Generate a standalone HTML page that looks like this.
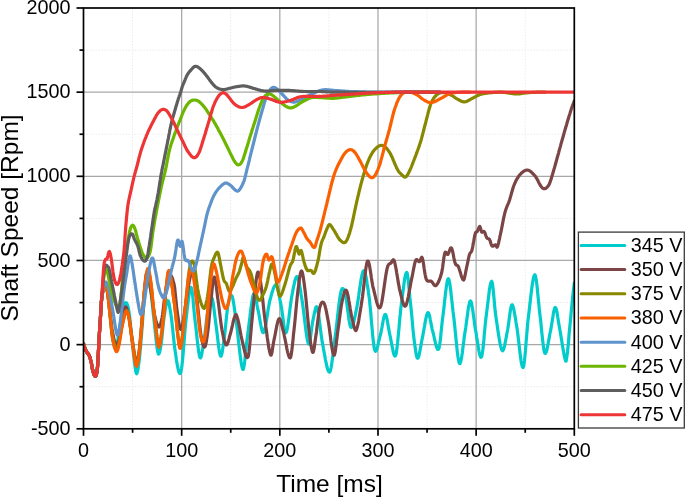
<!DOCTYPE html>
<html><head><meta charset="utf-8"><style>
html,body{margin:0;padding:0;background:#fff;width:685px;height:498px;overflow:hidden}
svg{display:block;font-family:"Liberation Sans",sans-serif;will-change:transform}
.mg{stroke:#ebebeb;stroke-width:1;stroke-dasharray:1.5 1.5}
.Mg{stroke:#a8a8a8;stroke-width:1.25}
#cv path{fill:none;stroke-width:3.2;stroke-linejoin:round;stroke-linecap:round}
#ax line,#ax rect{stroke:#000;stroke-width:1.7}
#lb text{font-size:19.8px;fill:#000}
#lg line{stroke-width:3;stroke-linecap:round}
#lg text{font-size:19.8px;fill:#000}
</style></head><body>
<svg width="685" height="498" viewBox="0 0 685 498">
<defs><clipPath id="c"><rect x="83.5" y="8.0" width="490.79999999999995" height="420.8"/></clipPath></defs>
<g id="gr"><line x1="132.58" y1="8.0" x2="132.58" y2="428.8" class="mg"/>
<line x1="230.74" y1="8.0" x2="230.74" y2="428.8" class="mg"/>
<line x1="328.90" y1="8.0" x2="328.90" y2="428.8" class="mg"/>
<line x1="427.06" y1="8.0" x2="427.06" y2="428.8" class="mg"/>
<line x1="525.22" y1="8.0" x2="525.22" y2="428.8" class="mg"/>
<line x1="83.5" y1="386.72" x2="574.3" y2="386.72" class="mg"/>
<line x1="83.5" y1="302.56" x2="574.3" y2="302.56" class="mg"/>
<line x1="83.5" y1="218.40" x2="574.3" y2="218.40" class="mg"/>
<line x1="83.5" y1="134.24" x2="574.3" y2="134.24" class="mg"/>
<line x1="83.5" y1="50.08" x2="574.3" y2="50.08" class="mg"/>
<line x1="181.66" y1="8.0" x2="181.66" y2="428.8" class="Mg"/>
<line x1="279.82" y1="8.0" x2="279.82" y2="428.8" class="Mg"/>
<line x1="377.98" y1="8.0" x2="377.98" y2="428.8" class="Mg"/>
<line x1="476.14" y1="8.0" x2="476.14" y2="428.8" class="Mg"/>
<line x1="83.5" y1="344.64" x2="574.3" y2="344.64" class="Mg"/>
<line x1="83.5" y1="260.48" x2="574.3" y2="260.48" class="Mg"/>
<line x1="83.5" y1="176.32" x2="574.3" y2="176.32" class="Mg"/>
<line x1="83.5" y1="92.16" x2="574.3" y2="92.16" class="Mg"/></g>
<g id="cv" clip-path="url(#c)"><path d="M83.5,343.8 L83.9,345.1 L84.3,346.4 L84.8,347.7 L85.2,348.8 L85.7,349.9 L86.2,350.9 L86.7,351.8 L87.2,352.7 L87.7,353.4 L88.2,353.9 L88.7,354.6 L89.2,355.5 L89.7,356.7 L90.2,358.2 L90.6,359.9 L91.1,361.8 L91.6,364.3 L92.0,367.1 L92.5,369.5 L93.0,371.4 L93.5,373.1 L94.0,374.5 L94.5,375.5 L95.0,376.0 L95.4,376.3 L95.8,376.0 L96.3,375.0 L96.7,373.1 L97.2,370.1 L97.6,366.0 L98.0,359.8 L98.4,352.0 L98.8,344.8 L99.1,338.0 L99.5,331.8 L99.9,326.0 L100.3,320.0 L100.8,311.0 L101.3,303.0 L101.7,298.7 L102.1,295.4 L102.5,293.0 L103.0,291.2 L103.4,290.0 L103.8,289.2 L104.3,288.5 L104.8,287.8 L105.2,287.4 L105.7,287.5 L106.2,287.9 L106.6,288.6 L107.0,289.8 L107.5,292.0 L108.0,295.7 L108.5,300.2 L109.0,305.1 L109.5,310.2 L110.0,315.0 L110.5,319.8 L111.0,324.8 L111.5,329.7 L112.0,334.2 L112.5,338.0 L113.0,341.0 L113.5,343.5 L114.0,345.5 L114.5,347.0 L115.0,348.0 L115.5,348.4 L116.0,348.0 L116.5,346.9 L117.0,345.0 L117.5,342.3 L118.0,339.1 L118.5,335.6 L119.0,331.9 L119.5,328.3 L120.0,325.0 L120.5,321.8 L121.0,318.7 L121.5,315.5 L122.0,312.6 L122.5,310.1 L123.0,308.0 L123.5,306.5 L123.9,305.1 L124.4,304.1 L124.8,303.3 L125.3,302.8 L125.7,302.6 L126.2,302.7 L126.7,303.2 L127.1,304.1 L127.6,305.3 L128.1,307.1 L128.5,309.3 L129.0,312.0 L129.5,315.7 L130.0,320.2 L130.5,325.2 L131.0,330.4 L131.5,335.4 L132.0,340.0 L132.5,344.1 L132.9,348.4 L133.4,352.8 L133.9,357.2 L134.3,361.3 L134.8,365.1 L135.3,368.4 L135.7,371.1 L136.2,373.0 L136.7,373.7 L137.1,372.9 L137.6,371.1 L138.1,368.5 L138.5,365.3 L139.0,362.0 L139.5,357.8 L140.0,352.7 L140.5,347.0 L141.0,341.0 L141.5,335.0 L142.0,328.7 L142.5,321.9 L143.0,315.0 L143.5,308.6 L144.0,303.0 L144.5,298.0 L145.0,293.3 L145.5,288.9 L146.0,285.1 L146.5,282.1 L147.0,280.0 L147.5,278.9 L148.0,278.7 L148.5,279.2 L149.0,280.5 L149.5,282.4 L150.0,285.0 L150.5,288.2 L151.0,292.1 L151.5,296.4 L152.0,301.1 L152.5,306.0 L153.0,310.8 L153.5,315.6 L154.0,320.0 L154.5,324.5 L155.0,329.3 L155.5,334.2 L156.0,339.0 L156.5,343.5 L157.0,347.4 L157.5,350.7 L158.0,353.0 L158.5,354.1 L159.0,353.8 L159.5,352.5 L160.0,350.5 L160.5,347.9 L161.0,345.0 L161.5,341.4 L162.0,336.9 L162.5,331.8 L163.0,326.7 L163.5,321.9 L164.0,318.0 L164.4,314.9 L164.9,311.9 L165.3,309.0 L165.8,306.4 L166.2,304.1 L166.7,302.3 L167.2,301.1 L167.6,300.5 L168.1,300.8 L168.6,301.8 L169.1,303.6 L169.5,306.0 L170.0,308.7 L170.5,311.8 L171.0,315.0 L171.5,318.7 L172.0,322.9 L172.5,327.5 L173.0,332.4 L173.5,337.2 L174.0,341.9 L174.5,346.2 L175.0,350.0 L175.5,353.3 L176.0,356.6 L176.4,359.7 L176.9,362.7 L177.4,365.4 L177.9,367.9 L178.3,370.0 L178.8,371.7 L179.3,373.0 L179.8,373.6 L180.2,373.4 L180.7,372.4 L181.1,370.7 L181.6,368.2 L182.0,365.0 L182.5,360.5 L183.0,355.1 L183.5,349.1 L184.0,342.8 L184.5,336.4 L185.0,330.3 L185.5,324.8 L186.0,320.0 L186.5,316.0 L186.9,311.9 L187.4,307.8 L187.9,303.8 L188.3,300.1 L188.8,296.6 L189.2,293.6 L189.7,291.1 L190.2,289.2 L190.6,287.9 L191.1,287.5 L191.6,288.5 L192.1,291.1 L192.6,295.1 L193.1,299.9 L193.5,305.2 L194.0,310.6 L194.5,315.7 L195.0,320.0 L195.5,324.1 L196.0,328.6 L196.5,333.2 L197.0,337.8 L197.5,342.3 L198.0,346.5 L198.5,350.2 L199.0,353.4 L199.5,355.9 L200.0,357.5 L200.5,357.9 L201.0,357.1 L201.5,355.4 L202.0,352.8 L202.5,349.8 L203.0,346.5 L203.5,343.1 L204.0,340.0 L204.5,336.7 L205.0,333.0 L205.5,328.9 L206.0,324.7 L206.5,320.5 L207.0,316.5 L207.5,313.0 L208.0,310.0 L208.5,307.4 L209.0,304.8 L209.5,302.5 L210.0,300.4 L210.5,298.9 L211.0,297.8 L211.5,297.5 L212.0,298.0 L212.5,299.5 L213.0,302.0 L213.5,305.2 L214.0,309.0 L214.5,313.1 L215.0,317.3 L215.5,321.3 L216.0,325.0 L216.5,328.7 L217.0,332.7 L217.5,337.0 L218.0,341.2 L218.5,345.3 L219.0,349.0 L219.5,352.1 L220.0,354.5 L220.5,356.0 L221.0,356.2 L221.5,355.2 L222.0,353.1 L222.5,350.3 L223.0,347.0 L223.5,343.5 L224.0,340.0 L224.5,336.2 L225.0,331.7 L225.5,326.9 L226.0,321.9 L226.5,316.9 L227.0,312.3 L227.5,308.2 L228.0,305.0 L228.5,302.4 L229.0,300.1 L229.5,298.3 L230.0,296.8 L230.5,295.8 L231.0,295.3 L231.5,295.4 L232.0,296.0 L232.5,297.4 L233.0,299.5 L233.5,302.3 L234.0,305.5 L234.5,309.1 L235.0,312.8 L235.5,316.5 L236.0,320.0 L236.5,323.5 L237.0,327.4 L237.5,331.5 L237.9,335.8 L238.4,340.2 L238.9,344.6 L239.4,348.9 L239.9,353.1 L240.4,357.0 L240.9,360.5 L241.3,363.6 L241.8,366.2 L242.3,368.1 L242.8,369.4 L243.3,369.4 L243.7,367.8 L244.2,365.1 L244.7,361.4 L245.1,357.1 L245.6,352.5 L246.1,347.9 L246.5,343.7 L247.0,340.0 L247.5,336.5 L248.0,332.8 L248.4,329.0 L248.9,325.0 L249.4,321.0 L249.9,317.0 L250.3,313.1 L250.8,309.4 L251.3,305.9 L251.8,302.6 L252.3,299.6 L252.7,297.1 L253.2,295.0 L253.7,293.4 L254.2,292.8 L254.7,293.3 L255.1,294.7 L255.6,296.8 L256.1,299.4 L256.6,302.3 L257.0,305.1 L257.5,307.8 L258.0,310.0 L258.5,312.2 L259.0,314.8 L259.5,317.6 L260.0,320.5 L260.5,323.3 L261.0,326.0 L261.5,328.4 L262.0,330.4 L262.5,331.9 L263.0,332.7 L263.5,332.7 L264.0,331.9 L264.5,330.5 L265.0,328.5 L265.5,326.1 L266.0,323.3 L266.5,320.3 L267.0,317.1 L267.5,313.9 L268.0,310.6 L268.5,307.5 L269.0,304.7 L269.5,302.1 L270.0,300.0 L270.5,298.2 L271.0,296.4 L271.4,294.7 L271.9,293.0 L272.4,291.4 L272.9,289.9 L273.3,288.6 L273.8,287.4 L274.3,286.4 L274.8,285.7 L275.2,285.2 L275.7,284.9 L276.2,285.0 L276.7,285.5 L277.2,286.6 L277.6,288.2 L278.1,290.1 L278.6,292.4 L279.1,294.8 L279.6,297.4 L280.0,300.0 L280.5,302.6 L281.0,305.0 L281.5,307.8 L282.0,311.1 L282.5,314.8 L283.0,318.7 L283.5,322.5 L284.0,325.9 L284.5,328.9 L285.0,331.2 L285.5,332.5 L286.0,332.7 L286.5,331.8 L287.0,330.0 L287.5,327.5 L288.0,324.3 L288.5,320.8 L289.0,316.9 L289.5,312.9 L290.0,308.8 L290.5,304.9 L291.0,301.2 L291.5,297.8 L292.0,295.0 L292.5,292.6 L292.9,290.1 L293.4,287.7 L293.9,285.4 L294.4,283.2 L294.8,281.2 L295.3,279.5 L295.8,278.1 L296.3,277.1 L296.7,276.5 L297.2,276.5 L297.7,277.1 L298.2,278.3 L298.6,280.1 L299.1,282.4 L299.6,285.0 L300.1,287.8 L300.6,290.9 L301.0,294.0 L301.5,297.0 L302.0,300.0 L302.5,303.2 L303.0,306.8 L303.5,310.8 L304.0,314.9 L304.5,319.1 L305.0,323.3 L305.5,327.4 L306.0,331.3 L306.5,334.9 L307.0,338.0 L307.5,340.7 L308.0,342.7 L308.5,344.0 L309.0,344.1 L309.5,342.8 L310.0,340.4 L310.5,337.2 L311.0,333.6 L311.5,329.7 L312.0,325.9 L312.5,322.6 L313.0,320.0 L313.5,317.7 L314.0,315.1 L314.5,312.6 L315.0,310.3 L315.5,308.4 L316.0,307.2 L316.5,306.7 L317.0,307.4 L317.5,308.9 L317.9,311.1 L318.4,313.8 L318.9,316.9 L319.3,320.3 L319.8,323.9 L320.3,327.6 L320.7,331.3 L321.2,334.9 L321.7,338.3 L322.1,341.4 L322.6,344.0 L323.1,346.5 L323.5,349.1 L324.0,351.7 L324.5,354.3 L325.0,357.0 L325.4,359.5 L325.9,361.9 L326.4,364.2 L326.9,366.3 L327.3,368.1 L327.8,369.7 L328.3,370.9 L328.8,371.7 L329.2,372.1 L329.7,372.0 L330.2,371.3 L330.6,369.8 L331.1,367.6 L331.6,364.9 L332.0,361.8 L332.5,358.3 L333.0,354.5 L333.4,350.6 L333.9,346.7 L334.4,342.7 L334.8,339.0 L335.3,335.5 L335.8,332.0 L336.2,328.2 L336.7,324.2 L337.2,320.1 L337.6,315.9 L338.1,311.8 L338.6,307.7 L339.0,303.9 L339.5,300.3 L340.0,297.1 L340.4,294.3 L340.9,292.0 L341.4,290.3 L341.8,289.2 L342.3,288.6 L342.8,288.5 L343.2,288.8 L343.7,289.5 L344.2,290.5 L344.6,291.8 L345.1,293.4 L345.6,295.4 L346.0,298.0 L346.5,301.1 L347.0,304.5 L347.4,308.0 L347.9,311.6 L348.4,315.2 L348.8,318.5 L349.3,321.5 L349.8,324.0 L350.2,325.9 L350.7,327.0 L351.2,327.4 L351.6,327.3 L352.1,326.7 L352.6,325.7 L353.0,324.4 L353.5,322.7 L354.0,320.9 L354.4,318.8 L354.9,316.7 L355.4,314.5 L355.8,312.3 L356.3,310.2 L356.8,307.9 L357.2,305.3 L357.7,302.3 L358.2,299.2 L358.7,295.9 L359.1,292.6 L359.6,289.3 L360.1,286.0 L360.6,282.8 L361.0,279.9 L361.5,277.3 L362.0,275.0 L362.5,273.1 L362.9,271.7 L363.4,270.9 L363.9,270.7 L364.3,271.1 L364.8,272.1 L365.3,273.6 L365.7,275.6 L366.2,277.9 L366.7,280.5 L367.1,283.4 L367.6,286.4 L368.1,289.6 L368.5,292.9 L369.0,296.2 L369.5,299.9 L369.9,304.3 L370.4,309.2 L370.9,314.4 L371.3,319.9 L371.8,325.4 L372.3,330.7 L372.7,335.8 L373.2,340.3 L373.7,344.3 L374.1,347.4 L374.6,349.6 L375.1,350.8 L375.5,351.3 L376.0,351.0 L376.5,350.2 L376.9,348.9 L377.4,347.3 L377.9,345.4 L378.3,343.3 L378.8,341.2 L379.3,339.1 L379.7,337.2 L380.2,335.5 L380.7,333.7 L381.1,331.6 L381.6,329.2 L382.1,326.7 L382.5,324.1 L383.0,321.6 L383.4,319.3 L383.9,317.3 L384.4,315.8 L384.8,314.8 L385.3,314.4 L385.8,314.8 L386.2,316.0 L386.7,317.8 L387.2,320.1 L387.6,322.6 L388.1,325.4 L388.6,328.2 L389.1,330.9 L389.5,333.4 L390.0,335.5 L390.5,337.6 L390.9,339.9 L391.4,342.5 L391.9,345.1 L392.4,347.7 L392.9,350.1 L393.3,352.3 L393.8,354.1 L394.3,355.4 L394.8,356.1 L395.2,356.0 L395.7,355.2 L396.2,353.4 L396.6,350.7 L397.1,347.1 L397.6,342.9 L398.0,338.3 L398.5,333.2 L399.0,328.1 L399.4,322.8 L399.9,317.7 L400.4,312.9 L400.8,308.4 L401.3,304.6 L401.8,300.8 L402.3,296.9 L402.8,293.0 L403.3,289.1 L403.8,285.4 L404.2,282.0 L404.7,278.9 L405.2,276.4 L405.7,274.4 L406.2,273.0 L406.7,272.5 L407.2,273.2 L407.6,275.4 L408.1,278.8 L408.5,283.0 L409.0,287.8 L409.5,292.8 L409.9,297.7 L410.4,302.2 L410.9,306.8 L411.4,311.9 L411.9,317.1 L412.4,322.4 L412.8,327.6 L413.3,332.6 L413.8,337.2 L414.3,341.3 L414.8,345.0 L415.3,348.5 L415.8,351.8 L416.2,354.5 L416.7,356.6 L417.2,357.9 L417.7,358.3 L418.2,357.7 L418.7,356.4 L419.2,354.5 L419.7,352.1 L420.2,349.5 L420.7,346.7 L421.2,343.8 L421.7,341.1 L422.2,338.7 L422.7,336.4 L423.1,333.9 L423.6,331.2 L424.1,328.5 L424.6,325.7 L425.0,323.0 L425.5,320.4 L426.0,318.1 L426.5,316.1 L426.9,314.4 L427.4,313.3 L427.9,312.6 L428.4,312.7 L428.8,313.5 L429.3,315.0 L429.8,317.0 L430.2,319.3 L430.7,321.8 L431.2,324.4 L431.7,326.8 L432.1,329.1 L432.6,330.9 L433.1,332.7 L433.6,334.8 L434.1,337.0 L434.6,339.3 L435.1,341.6 L435.6,343.7 L436.1,345.6 L436.6,347.2 L437.1,348.5 L437.6,349.3 L438.1,349.5 L438.6,349.1 L439.1,347.7 L439.6,345.2 L440.1,341.7 L440.6,337.6 L441.0,333.0 L441.5,328.2 L442.0,323.5 L442.5,319.1 L443.0,315.2 L443.5,311.5 L444.0,307.3 L444.4,303.0 L444.9,298.6 L445.4,294.2 L445.9,290.1 L446.4,286.4 L446.9,283.3 L447.3,280.8 L447.8,279.3 L448.3,278.7 L448.8,279.3 L449.2,280.8 L449.7,283.2 L450.2,286.4 L450.7,290.0 L451.1,294.1 L451.6,298.4 L452.1,302.9 L452.6,307.2 L453.0,311.4 L453.5,315.2 L454.0,319.3 L454.5,323.8 L455.0,328.8 L455.5,333.9 L456.0,339.0 L456.5,344.0 L457.0,348.8 L457.5,353.2 L458.0,357.0 L458.5,360.0 L459.0,362.3 L459.5,363.5 L460.0,363.6 L460.4,362.7 L460.9,361.0 L461.4,358.6 L461.9,355.6 L462.4,352.2 L462.8,348.6 L463.3,344.8 L463.8,341.0 L464.2,337.3 L464.7,333.9 L465.2,330.9 L465.7,328.0 L466.1,324.7 L466.6,321.1 L467.1,317.5 L467.6,313.9 L468.0,310.5 L468.5,307.4 L469.0,304.8 L469.5,302.7 L469.9,301.4 L470.4,300.9 L470.9,301.4 L471.4,302.8 L471.8,304.9 L472.3,307.6 L472.8,310.8 L473.3,314.3 L473.8,317.9 L474.3,321.5 L474.7,325.0 L475.2,328.2 L475.7,330.9 L476.2,333.5 L476.6,336.4 L477.1,339.5 L477.6,342.6 L478.1,345.7 L478.5,348.6 L479.0,351.3 L479.5,353.6 L480.0,355.5 L480.4,356.7 L480.9,357.3 L481.4,357.0 L481.9,355.6 L482.4,352.9 L482.9,349.2 L483.4,344.7 L483.9,339.7 L484.3,334.4 L484.8,329.1 L485.3,323.9 L485.8,319.2 L486.3,315.2 L486.8,311.4 L487.3,307.4 L487.8,303.3 L488.3,299.2 L488.8,295.2 L489.2,291.5 L489.7,288.1 L490.2,285.3 L490.7,283.2 L491.2,281.8 L491.7,281.3 L492.2,282.4 L492.7,285.4 L493.2,289.7 L493.7,295.0 L494.2,300.7 L494.7,306.3 L495.2,311.3 L495.7,315.3 L496.2,318.7 L496.7,322.1 L497.2,325.6 L497.7,329.0 L498.2,332.4 L498.7,335.6 L499.2,338.7 L499.7,341.5 L500.2,344.1 L500.7,346.3 L501.2,348.2 L501.7,349.6 L502.2,350.5 L502.7,350.8 L503.1,350.3 L503.6,349.3 L504.1,347.7 L504.6,345.8 L505.0,343.5 L505.5,341.1 L506.0,338.5 L506.5,335.9 L506.9,333.3 L507.4,331.0 L507.9,328.3 L508.4,324.9 L508.9,321.3 L509.4,317.5 L509.9,313.8 L510.4,310.4 L510.9,307.6 L511.4,305.7 L511.9,304.8 L512.4,304.9 L512.8,305.8 L513.3,307.3 L513.8,309.2 L514.2,311.6 L514.7,314.3 L515.2,317.1 L515.7,320.1 L516.1,323.0 L516.6,325.7 L517.1,328.8 L517.6,332.5 L518.1,336.5 L518.6,340.8 L519.1,345.2 L519.6,349.6 L520.1,353.8 L520.6,357.6 L521.1,361.1 L521.6,363.9 L522.1,366.0 L522.6,367.3 L523.1,367.5 L523.6,366.4 L524.0,363.9 L524.5,360.2 L525.0,355.6 L525.5,350.2 L525.9,344.5 L526.4,338.6 L526.9,332.7 L527.4,327.1 L527.8,322.1 L528.3,317.9 L528.8,313.8 L529.3,309.5 L529.8,305.1 L530.3,300.7 L530.8,296.3 L531.3,292.1 L531.8,288.2 L532.3,284.5 L532.8,281.4 L533.3,278.7 L533.8,276.7 L534.3,275.3 L534.8,274.8 L535.3,275.4 L535.7,277.1 L536.2,279.8 L536.7,283.4 L537.2,287.6 L537.6,292.2 L538.1,297.0 L538.6,302.0 L539.1,306.8 L539.5,311.3 L540.0,315.3 L540.5,319.3 L541.0,323.8 L541.4,328.5 L541.9,333.3 L542.4,338.0 L542.9,342.4 L543.4,346.2 L543.8,349.5 L544.3,351.8 L544.8,353.1 L545.3,353.4 L545.8,353.0 L546.2,352.0 L546.7,350.5 L547.2,348.5 L547.6,346.2 L548.1,343.7 L548.6,341.1 L549.1,338.4 L549.5,335.7 L550.0,333.2 L550.5,331.0 L551.0,328.7 L551.4,325.9 L551.9,323.0 L552.4,319.9 L552.9,316.8 L553.3,313.9 L553.8,311.4 L554.3,309.4 L554.7,308.0 L555.2,307.4 L555.7,307.8 L556.2,309.0 L556.7,310.9 L557.2,313.4 L557.6,316.3 L558.1,319.4 L558.6,322.6 L559.1,325.6 L559.6,328.3 L560.1,331.0 L560.6,333.9 L561.1,336.9 L561.6,340.0 L562.1,343.2 L562.6,346.3 L563.1,349.3 L563.6,352.1 L564.1,354.8 L564.6,357.2 L565.1,359.3 L565.6,361.0 L566.1,361.1 L566.5,359.1 L567.0,355.8 L567.5,352.0 L567.9,348.0 L568.4,343.1 L568.8,337.9 L569.2,333.0 L569.6,328.6 L570.1,324.3 L570.5,320.0 L570.9,316.0 L571.2,312.0 L571.6,308.0 L572.1,303.2 L572.5,298.5 L573.0,294.0 L573.4,290.2 L573.9,286.6 L574.3,283.0" stroke="#00CCCC"/>
<path d="M83.5,343.8 L83.9,345.1 L84.3,346.4 L84.8,347.7 L85.2,348.8 L85.7,349.9 L86.2,350.9 L86.7,351.8 L87.2,352.7 L87.7,353.4 L88.2,353.9 L88.7,354.6 L89.2,355.5 L89.7,356.7 L90.2,358.2 L90.6,359.9 L91.1,361.8 L91.6,364.3 L92.0,367.1 L92.5,369.5 L93.0,371.4 L93.5,373.1 L94.0,374.5 L94.5,375.5 L95.0,376.0 L95.4,376.3 L95.8,376.0 L96.3,375.0 L96.7,373.1 L97.2,370.1 L97.6,366.0 L98.0,359.8 L98.4,352.0 L98.8,344.8 L99.1,338.0 L99.5,331.8 L99.9,326.0 L100.3,320.0 L100.8,311.0 L101.3,303.0 L101.7,298.7 L102.1,295.4 L102.5,293.0 L103.0,291.2 L103.4,290.0 L103.8,289.2 L104.3,288.5 L104.8,287.8 L105.2,287.4 L105.7,287.5 L106.2,288.0 L106.6,288.7 L107.0,289.9 L107.5,292.0 L108.0,295.3 L108.5,299.2 L109.0,303.4 L109.5,307.8 L110.0,312.0 L110.5,316.2 L111.0,320.7 L111.5,325.0 L112.0,328.9 L112.5,332.0 L113.0,334.4 L113.5,336.6 L113.9,338.6 L114.4,340.4 L114.9,342.0 L115.3,343.2 L115.8,344.3 L116.3,345.0 L116.8,345.3 L117.2,345.0 L117.7,344.3 L118.1,343.2 L118.5,341.7 L119.0,340.0 L119.5,337.6 L120.0,334.7 L120.5,331.5 L121.0,328.1 L121.5,324.9 L122.0,322.0 L122.5,319.4 L122.9,316.7 L123.4,314.1 L123.9,311.6 L124.4,309.5 L124.8,307.9 L125.3,307.0 L125.8,306.8 L126.2,307.2 L126.7,308.1 L127.1,309.4 L127.6,311.1 L128.0,312.9 L128.5,315.0 L129.0,317.6 L129.5,320.7 L130.0,324.1 L130.5,327.7 L131.0,331.3 L131.5,334.8 L132.0,338.0 L132.5,341.0 L132.9,344.2 L133.4,347.4 L133.9,350.6 L134.3,353.7 L134.8,356.4 L135.3,358.8 L135.7,360.7 L136.2,362.0 L136.7,362.3 L137.1,361.6 L137.6,360.1 L138.1,357.8 L138.5,355.1 L139.0,352.0 L139.5,348.0 L140.0,343.1 L140.5,337.6 L141.0,331.8 L141.5,326.0 L142.0,319.9 L142.5,313.4 L143.0,306.8 L143.5,300.6 L144.0,295.0 L144.4,290.2 L144.9,285.4 L145.3,280.8 L145.8,277.0 L146.2,274.2 L146.7,273.0 L147.2,273.2 L147.7,274.2 L148.2,276.1 L148.7,278.5 L149.2,281.2 L149.7,284.2 L150.2,287.2 L150.7,290.0 L151.2,292.8 L151.7,296.0 L152.2,299.4 L152.6,302.9 L153.1,306.3 L153.6,309.6 L154.1,312.5 L154.6,315.0 L155.1,317.1 L155.5,319.0 L156.0,320.8 L156.5,322.4 L156.9,323.9 L157.4,325.1 L157.9,326.0 L158.3,326.6 L158.8,327.0 L159.3,326.9 L159.7,326.4 L160.2,325.4 L160.6,324.0 L161.1,322.3 L161.5,320.3 L162.0,318.0 L162.5,314.9 L163.0,311.1 L163.5,306.9 L164.0,302.6 L164.5,298.5 L165.0,295.0 L165.5,291.9 L166.0,288.7 L166.5,285.5 L166.9,282.5 L167.4,279.8 L167.9,277.6 L168.4,275.9 L168.9,275.0 L169.4,274.6 L169.9,274.6 L170.3,274.8 L170.8,275.2 L171.3,276.0 L171.8,276.9 L172.3,278.1 L172.8,279.6 L173.2,281.2 L173.7,283.0 L174.2,285.0 L174.7,287.8 L175.1,291.8 L175.6,296.5 L176.1,301.5 L176.5,306.1 L177.0,310.0 L177.5,313.5 L178.0,316.9 L178.5,320.1 L178.9,323.1 L179.4,325.6 L179.9,327.7 L180.4,329.0 L180.8,329.4 L181.3,328.9 L181.7,327.7 L182.1,326.1 L182.6,324.1 L183.0,322.0 L183.5,319.3 L184.0,316.1 L184.5,312.5 L185.0,308.9 L185.5,305.3 L186.0,302.0 L186.5,298.8 L187.0,295.5 L187.5,292.2 L188.0,289.0 L188.5,285.9 L189.0,283.0 L189.5,280.3 L190.0,278.0 L190.5,275.8 L191.0,273.8 L191.5,272.2 L192.0,271.2 L192.5,271.1 L193.0,272.0 L193.5,274.0 L194.0,276.7 L194.5,279.9 L195.0,283.6 L195.5,287.6 L196.0,291.8 L196.5,296.0 L197.0,300.0 L197.5,304.2 L198.0,308.8 L198.5,313.6 L199.0,318.4 L199.5,323.2 L200.0,327.6 L200.5,331.6 L201.0,335.0 L201.5,337.7 L201.9,340.2 L202.4,342.4 L202.9,344.2 L203.4,345.6 L203.9,346.6 L204.3,347.1 L204.8,347.0 L205.3,346.2 L205.7,344.7 L206.2,342.5 L206.6,339.8 L207.1,336.8 L207.5,333.4 L208.0,330.0 L208.5,325.7 L209.0,320.7 L209.5,315.3 L210.0,309.8 L210.5,304.6 L211.0,300.0 L211.5,295.8 L211.9,291.4 L212.4,287.1 L212.9,283.1 L213.4,279.9 L213.8,277.8 L214.3,277.0 L214.8,277.6 L215.2,279.4 L215.7,282.0 L216.2,285.3 L216.6,289.0 L217.1,292.8 L217.5,296.6 L218.0,300.0 L218.5,303.6 L219.0,307.5 L219.5,311.6 L220.0,315.7 L220.5,319.8 L221.0,323.6 L221.5,327.0 L222.0,330.0 L222.5,332.5 L223.0,334.9 L223.4,337.1 L223.9,339.2 L224.4,340.9 L224.9,342.4 L225.3,343.6 L225.8,344.5 L226.3,345.0 L226.8,345.0 L227.2,344.3 L227.7,343.2 L228.2,341.8 L228.6,340.2 L229.1,338.4 L229.5,336.6 L230.0,335.0 L230.5,333.3 L231.0,331.4 L231.5,329.3 L232.0,327.2 L232.5,325.1 L232.9,323.0 L233.4,321.0 L233.9,319.1 L234.4,317.5 L234.9,316.1 L235.4,315.0 L235.8,314.6 L236.3,314.8 L236.7,315.7 L237.1,316.9 L237.6,318.4 L238.0,320.0 L238.5,322.1 L239.0,324.6 L239.5,327.2 L240.0,330.0 L240.5,332.8 L241.0,335.5 L241.5,337.9 L242.0,340.0 L242.5,342.0 L243.0,344.1 L243.5,346.3 L244.0,348.6 L244.5,350.8 L245.0,352.8 L245.5,354.6 L246.0,356.0 L246.5,357.1 L247.0,357.6 L247.5,357.6 L248.0,357.0 L248.5,355.2 L249.0,351.9 L249.5,347.5 L250.0,342.3 L250.5,336.6 L251.0,330.8 L251.5,325.1 L252.0,320.0 L252.5,315.0 L253.0,309.8 L253.5,304.5 L254.0,299.3 L254.5,294.4 L255.0,290.0 L255.5,286.0 L256.0,282.0 L256.4,278.4 L256.9,275.3 L257.4,273.1 L257.9,272.0 L258.3,272.1 L258.8,273.0 L259.2,274.6 L259.7,276.7 L260.1,279.2 L260.6,282.0 L261.0,285.0 L261.5,288.7 L262.0,292.9 L262.5,297.5 L263.0,302.2 L263.5,307.0 L264.0,311.7 L264.5,316.1 L265.0,320.0 L265.5,323.5 L265.9,327.0 L266.4,330.6 L266.9,334.2 L267.3,337.7 L267.8,341.0 L268.3,344.2 L268.7,347.1 L269.2,349.7 L269.7,351.9 L270.1,353.7 L270.6,355.0 L271.1,355.2 L271.6,354.0 L272.1,351.7 L272.5,348.8 L273.0,345.6 L273.5,342.5 L274.0,340.0 L274.5,337.7 L275.0,335.2 L275.5,332.6 L276.0,329.9 L276.5,327.3 L277.0,324.9 L277.5,322.8 L278.0,320.9 L278.5,319.6 L279.0,318.7 L279.5,318.6 L280.0,319.2 L280.5,320.4 L281.0,322.0 L281.5,324.0 L282.0,326.1 L282.5,328.1 L283.0,330.0 L283.5,331.8 L284.0,333.9 L284.4,336.1 L284.9,338.5 L285.4,341.0 L285.9,343.5 L286.4,346.0 L286.8,348.3 L287.3,350.6 L287.8,352.6 L288.3,354.4 L288.8,355.9 L289.2,357.0 L289.7,357.7 L290.2,358.0 L290.7,357.2 L291.1,355.2 L291.6,352.1 L292.1,348.1 L292.6,343.7 L293.1,339.0 L293.5,334.4 L294.0,330.0 L294.5,325.4 L295.0,320.3 L295.5,315.0 L296.0,309.6 L296.5,304.2 L297.0,299.0 L297.5,294.3 L298.0,290.0 L298.5,286.1 L299.0,282.2 L299.5,278.7 L300.0,275.6 L300.5,273.2 L301.0,271.6 L301.5,271.0 L302.0,271.6 L302.5,273.2 L303.0,275.6 L303.5,278.7 L304.0,282.2 L304.5,286.1 L305.0,290.0 L305.5,294.3 L306.0,299.2 L306.5,304.5 L307.0,309.9 L307.5,315.4 L308.0,320.7 L308.5,325.6 L309.0,330.0 L309.5,333.8 L309.9,337.6 L310.4,341.3 L310.9,344.7 L311.4,347.6 L311.9,349.9 L312.3,351.6 L312.8,352.4 L313.3,352.0 L313.7,350.5 L314.2,348.0 L314.6,345.0 L315.1,341.6 L315.5,338.2 L316.0,335.0 L316.5,331.7 L316.9,328.0 L317.4,324.0 L317.9,320.0 L318.4,316.2 L318.9,312.7 L319.3,309.7 L319.8,307.4 L320.3,305.7 L320.7,304.4 L321.2,303.4 L321.7,302.7 L322.1,302.2 L322.6,302.1 L323.1,302.2 L323.5,302.6 L324.0,303.2 L324.5,304.2 L325.0,305.7 L325.5,307.6 L326.0,309.7 L326.5,312.1 L327.0,314.7 L327.5,317.4 L328.0,320.0 L328.5,322.8 L329.0,326.1 L329.5,329.6 L330.0,333.3 L330.5,337.0 L330.9,340.7 L331.4,344.3 L331.9,347.5 L332.4,350.3 L332.9,352.6 L333.4,354.3 L333.9,355.2 L334.4,355.0 L334.8,353.6 L335.3,351.3 L335.7,348.2 L336.2,344.7 L336.6,340.8 L337.1,337.0 L337.5,333.3 L338.0,330.0 L338.5,326.5 L339.0,322.8 L339.5,318.9 L340.0,315.0 L340.5,311.3 L341.0,307.8 L341.5,304.6 L342.0,302.0 L342.5,299.7 L343.0,297.5 L343.5,295.4 L344.0,293.6 L344.5,292.0 L345.0,290.9 L345.5,290.2 L346.0,290.1 L346.5,290.6 L347.0,291.7 L347.4,293.2 L347.9,295.2 L348.4,297.6 L348.8,300.2 L349.3,303.0 L349.8,305.9 L350.2,308.8 L350.7,311.6 L351.2,314.2 L351.6,316.6 L352.1,318.7 L352.6,320.7 L353.0,322.7 L353.5,324.7 L354.0,326.6 L354.4,328.2 L354.9,329.5 L355.4,330.3 L355.8,330.5 L356.3,330.0 L356.8,328.9 L357.2,327.3 L357.7,325.4 L358.2,323.2 L358.7,320.7 L359.1,318.0 L359.6,315.1 L360.1,312.1 L360.6,309.1 L361.1,306.0 L361.5,303.0 L362.0,300.0 L362.5,296.9 L362.9,293.3 L363.4,289.4 L363.9,285.3 L364.3,281.1 L364.8,277.0 L365.3,273.1 L365.7,269.5 L366.2,266.3 L366.7,263.8 L367.1,262.0 L367.6,261.0 L368.1,261.0 L368.5,261.8 L369.0,263.4 L369.5,265.5 L369.9,268.1 L370.4,271.1 L370.9,274.2 L371.3,277.3 L371.8,280.4 L372.3,283.3 L372.7,285.8 L373.2,287.8 L373.7,289.7 L374.2,291.8 L374.7,293.9 L375.2,296.0 L375.7,298.1 L376.2,300.2 L376.7,302.1 L377.2,303.8 L377.7,305.3 L378.2,306.5 L378.7,307.3 L379.2,307.8 L379.7,307.8 L380.2,307.4 L380.7,306.4 L381.2,304.7 L381.7,302.5 L382.2,299.9 L382.7,296.8 L383.2,293.6 L383.7,290.1 L384.2,286.6 L384.7,283.0 L385.2,279.5 L385.7,276.2 L386.2,273.1 L386.7,270.4 L387.2,268.1 L387.7,266.4 L388.1,265.3 L388.6,264.5 L389.1,264.1 L389.6,263.8 L390.1,263.6 L390.5,263.4 L391.0,263.0 L391.5,262.4 L391.9,261.5 L392.4,260.7 L392.9,260.0 L393.4,259.7 L393.8,260.0 L394.3,261.0 L394.8,262.7 L395.2,264.7 L395.7,267.0 L396.2,269.6 L396.6,272.3 L397.1,275.2 L397.6,278.0 L398.0,280.9 L398.5,283.6 L399.0,286.2 L399.4,288.6 L399.9,290.6 L400.4,292.5 L400.8,294.5 L401.3,296.4 L401.8,298.3 L402.2,300.2 L402.7,301.8 L403.2,303.3 L403.6,304.5 L404.1,305.4 L404.6,306.0 L405.0,306.2 L405.5,306.0 L406.0,305.3 L406.5,304.1 L406.9,302.6 L407.4,300.7 L407.9,298.6 L408.4,296.3 L408.8,293.8 L409.3,291.2 L409.8,288.5 L410.3,285.9 L410.7,283.4 L411.2,280.9 L411.7,278.7 L412.2,276.3 L412.7,273.7 L413.2,271.0 L413.7,268.4 L414.2,265.9 L414.7,263.6 L415.2,261.8 L415.7,260.4 L416.2,259.7 L416.7,259.5 L417.2,259.7 L417.6,260.2 L418.1,260.8 L418.6,261.3 L419.1,261.7 L419.6,261.7 L420.0,261.1 L420.5,260.0 L420.9,258.8 L421.3,257.7 L421.8,257.3 L422.2,257.8 L422.7,259.5 L423.2,262.0 L423.7,265.0 L424.1,268.3 L424.6,271.5 L425.1,274.5 L425.6,277.0 L426.1,278.7 L426.6,279.7 L427.0,280.5 L427.5,280.9 L428.0,281.2 L428.5,281.2 L428.9,281.2 L429.4,281.1 L429.9,281.0 L430.4,281.0 L430.8,281.1 L431.3,281.3 L431.8,281.7 L432.2,282.3 L432.7,282.9 L433.2,283.6 L433.6,284.3 L434.1,284.9 L434.6,285.4 L435.1,285.7 L435.5,285.7 L436.0,285.5 L436.5,285.0 L436.9,284.5 L437.4,283.8 L437.9,283.0 L438.4,282.1 L438.9,281.0 L439.3,279.9 L439.8,278.6 L440.3,277.3 L440.8,275.8 L441.2,274.2 L441.7,272.5 L442.1,270.4 L442.6,267.5 L443.0,264.2 L443.5,260.8 L443.9,257.5 L444.4,254.8 L444.8,253.0 L445.3,252.1 L445.8,252.2 L446.3,252.9 L446.8,253.8 L447.3,254.4 L447.8,254.5 L448.2,253.9 L448.7,252.9 L449.1,251.7 L449.6,250.4 L450.1,249.2 L450.5,248.3 L450.9,247.8 L451.4,248.0 L451.9,249.0 L452.4,250.6 L452.9,252.7 L453.4,255.0 L453.8,257.5 L454.3,259.8 L454.8,261.9 L455.3,263.5 L455.8,264.5 L456.3,265.0 L456.8,265.3 L457.3,265.4 L457.8,265.8 L458.3,266.5 L458.8,267.6 L459.2,268.9 L459.7,270.4 L460.2,272.0 L460.7,273.6 L461.1,275.2 L461.6,276.7 L462.1,278.0 L462.6,279.0 L463.0,279.7 L463.5,280.0 L464.0,279.5 L464.5,277.9 L465.0,275.7 L465.5,273.0 L466.0,270.4 L466.5,268.0 L467.0,265.7 L467.5,263.3 L468.0,260.9 L468.5,258.5 L469.0,256.3 L469.5,254.5 L470.0,253.3 L470.5,252.7 L470.9,252.2 L471.4,251.6 L471.9,250.5 L472.3,248.7 L472.8,246.3 L473.2,243.7 L473.7,241.3 L474.1,239.0 L474.5,236.7 L475.0,234.6 L475.4,233.0 L475.8,232.2 L476.3,232.0 L476.8,231.9 L477.2,231.5 L477.6,230.7 L478.1,229.6 L478.5,228.5 L478.9,227.5 L479.4,226.7 L479.8,226.5 L480.2,227.3 L480.7,229.0 L481.2,230.9 L481.6,232.0 L482.0,232.3 L482.5,232.1 L482.9,231.8 L483.3,231.5 L483.8,231.4 L484.2,231.6 L484.6,232.3 L485.1,233.3 L485.5,234.6 L485.9,235.8 L486.4,237.0 L486.8,237.8 L487.2,238.3 L487.7,238.5 L488.1,238.6 L488.6,238.7 L489.1,239.0 L489.5,239.5 L489.9,240.4 L490.4,241.6 L490.8,243.0 L491.2,244.3 L491.7,245.4 L492.1,246.0 L492.6,246.2 L493.1,246.2 L493.6,245.9 L494.1,245.5 L494.6,245.1 L495.1,244.8 L495.6,244.8 L496.0,245.4 L496.5,246.4 L496.9,247.2 L497.3,247.0 L497.8,245.8 L498.2,244.2 L498.7,242.4 L499.1,240.4 L499.6,238.3 L500.0,236.1 L500.5,234.0 L501.0,231.7 L501.5,229.2 L502.0,226.6 L502.5,224.0 L503.0,221.4 L503.5,218.9 L504.0,216.5 L504.5,214.3 L505.0,212.3 L505.5,210.6 L506.0,209.0 L506.5,207.7 L507.0,206.4 L507.5,205.2 L508.0,204.1 L508.5,202.9 L509.0,201.6 L509.5,200.2 L510.0,198.6 L510.5,196.9 L511.0,195.1 L511.5,193.3 L512.0,191.5 L512.5,189.7 L513.0,188.0 L513.5,186.5 L514.0,185.2 L514.5,184.0 L515.0,182.9 L515.5,181.8 L516.0,180.8 L516.5,179.8 L517.0,178.9 L517.5,178.1 L518.0,177.3 L518.5,176.5 L519.0,175.8 L519.5,175.2 L520.0,174.6 L520.5,174.1 L521.0,173.6 L521.4,173.1 L521.9,172.7 L522.4,172.3 L522.9,171.9 L523.3,171.5 L523.8,171.2 L524.3,170.9 L524.8,170.7 L525.2,170.5 L525.7,170.3 L526.2,170.2 L526.6,170.1 L527.1,170.1 L527.6,170.1 L528.1,170.2 L528.6,170.3 L529.1,170.5 L529.6,170.8 L530.1,171.1 L530.6,171.5 L531.1,171.9 L531.6,172.3 L532.1,172.8 L532.6,173.3 L533.1,173.8 L533.6,174.3 L534.1,174.9 L534.6,175.5 L535.1,176.1 L535.6,176.7 L536.1,177.4 L536.5,178.2 L537.0,179.0 L537.5,179.9 L538.0,180.8 L538.4,181.7 L538.9,182.7 L539.4,183.6 L539.9,184.4 L540.3,185.3 L540.8,186.0 L541.3,186.7 L541.8,187.3 L542.2,187.8 L542.7,188.2 L543.2,188.5 L543.7,188.7 L544.2,188.7 L544.7,188.7 L545.2,188.6 L545.7,188.4 L546.2,188.0 L546.7,187.6 L547.2,187.2 L547.7,186.6 L548.2,185.9 L548.7,185.2 L549.2,184.3 L549.7,183.2 L550.2,181.8 L550.7,180.3 L551.2,178.7 L551.7,177.1 L552.2,175.4 L552.7,173.7 L553.2,172.0 L553.7,170.3 L554.2,168.6 L554.7,166.9 L555.2,165.1 L555.7,163.3 L556.2,161.5 L556.7,159.6 L557.2,157.8 L557.7,156.0 L558.2,154.3 L558.7,152.6 L559.1,150.8 L559.6,149.1 L560.1,147.4 L560.6,145.6 L561.0,143.9 L561.5,142.2 L562.0,140.5 L562.5,138.7 L563.0,137.0 L563.5,135.2 L564.0,133.4 L564.5,131.7 L565.0,129.9 L565.5,128.2 L566.0,126.5 L566.5,124.9 L566.9,123.3 L567.4,121.7 L567.9,120.1 L568.4,118.6 L568.8,117.0 L569.3,115.5 L569.8,114.0 L570.2,112.6 L570.6,111.1 L571.1,109.7 L571.5,108.3 L572.0,107.0 L572.5,105.7 L572.9,104.5 L573.4,103.3 L573.8,102.2 L574.3,101.0" stroke="#7B4545"/>
<path d="M83.5,343.8 L83.9,345.1 L84.3,346.4 L84.8,347.7 L85.2,348.8 L85.7,349.9 L86.2,350.9 L86.7,351.8 L87.2,352.7 L87.7,353.4 L88.2,353.9 L88.7,354.6 L89.2,355.5 L89.7,356.7 L90.2,358.2 L90.6,359.9 L91.1,361.8 L91.6,364.3 L92.0,367.1 L92.5,369.5 L93.0,371.4 L93.5,373.1 L94.0,374.5 L94.5,375.5 L95.0,376.0 L95.4,376.3 L95.8,376.0 L96.3,375.0 L96.7,373.1 L97.2,370.1 L97.6,366.0 L98.0,359.8 L98.4,352.0 L98.8,344.8 L99.1,338.0 L99.5,331.8 L99.9,326.0 L100.3,320.0 L100.8,311.0 L101.3,303.0 L101.7,298.7 L102.1,295.4 L102.5,293.0 L103.0,291.2 L103.4,290.0 L103.8,289.2 L104.3,288.5 L104.8,287.8 L105.2,287.4 L105.7,287.5 L106.2,288.0 L106.6,288.6 L107.0,289.8 L107.5,292.0 L108.0,295.6 L108.5,299.9 L109.0,304.6 L109.5,309.4 L110.0,314.0 L110.5,318.7 L111.0,323.6 L111.5,328.4 L112.0,332.6 L112.5,336.0 L113.0,338.5 L113.5,340.8 L113.9,342.8 L114.4,344.6 L114.9,346.1 L115.3,347.4 L115.8,348.3 L116.3,349.0 L116.8,349.1 L117.2,348.7 L117.7,347.7 L118.1,346.4 L118.5,344.8 L119.0,343.0 L119.5,340.6 L120.0,337.8 L120.5,334.7 L121.0,331.5 L121.5,328.5 L122.0,326.0 L122.5,323.9 L122.9,321.8 L123.4,319.7 L123.9,317.7 L124.3,315.9 L124.8,314.2 L125.3,312.8 L125.7,311.7 L126.2,311.0 L126.7,310.8 L127.1,311.3 L127.6,312.4 L128.1,313.9 L128.5,315.8 L129.0,318.0 L129.5,320.8 L130.0,324.2 L130.5,327.9 L131.0,331.8 L131.5,335.6 L132.0,339.0 L132.5,342.1 L132.9,345.4 L133.4,348.8 L133.9,352.1 L134.3,355.3 L134.8,358.2 L135.3,360.7 L135.7,362.6 L136.2,364.0 L136.7,364.4 L137.1,363.7 L137.6,362.1 L138.1,359.9 L138.5,357.1 L139.0,354.0 L139.5,350.1 L140.0,345.2 L140.5,339.7 L141.0,333.9 L141.5,328.0 L142.0,321.8 L142.5,315.2 L143.0,308.4 L143.5,301.9 L144.0,296.0 L144.4,291.4 L144.9,287.2 L145.3,283.5 L145.8,280.0 L146.2,277.0 L146.6,274.2 L147.1,271.8 L147.6,270.3 L148.0,270.0 L148.4,270.8 L148.9,272.1 L149.3,274.0 L149.8,276.3 L150.2,279.0 L150.7,282.0 L151.2,285.7 L151.7,289.9 L152.2,294.4 L152.6,299.1 L153.1,303.8 L153.6,308.5 L154.1,312.9 L154.6,317.0 L155.1,321.0 L155.6,325.0 L156.1,329.0 L156.6,332.9 L157.0,336.4 L157.5,339.5 L158.0,342.1 L158.5,344.0 L159.0,344.7 L159.5,344.0 L160.0,342.2 L160.5,339.8 L161.0,337.0 L161.4,334.2 L161.9,330.9 L162.3,327.3 L162.8,323.3 L163.2,319.2 L163.7,315.0 L164.2,310.2 L164.6,304.9 L165.1,299.5 L165.5,294.4 L166.0,290.0 L166.5,285.7 L167.0,281.3 L167.4,277.2 L167.9,273.9 L168.4,271.8 L168.9,271.5 L169.4,272.5 L169.9,274.1 L170.3,276.2 L170.8,278.7 L171.3,281.5 L171.8,284.7 L172.3,288.0 L172.8,291.5 L173.2,295.0 L173.7,298.6 L174.2,302.0 L174.7,305.6 L175.1,309.5 L175.6,313.8 L176.1,318.2 L176.6,322.7 L177.0,327.2 L177.5,331.5 L178.0,335.6 L178.5,339.2 L178.9,342.4 L179.4,345.0 L179.8,346.4 L180.3,346.5 L180.7,345.7 L181.1,344.0 L181.6,341.7 L182.0,339.0 L182.5,335.5 L183.0,331.4 L183.5,326.9 L183.9,322.1 L184.4,317.1 L184.9,312.0 L185.4,306.9 L185.9,302.0 L186.3,297.7 L186.7,293.1 L187.2,288.4 L187.6,284.0 L188.0,280.0 L188.5,275.8 L189.0,272.0 L189.5,268.7 L190.0,266.0 L190.5,263.9 L191.0,262.3 L191.5,261.3 L192.0,261.0 L192.5,261.1 L193.0,261.6 L193.5,262.5 L194.0,263.9 L194.5,266.0 L195.0,268.6 L195.4,271.8 L195.9,275.3 L196.3,279.0 L196.8,282.7 L197.2,286.1 L197.7,289.0 L198.2,291.5 L198.6,293.8 L199.1,295.8 L199.5,297.7 L200.0,299.5 L200.4,301.1 L200.9,302.5 L201.4,303.8 L201.8,305.1 L202.3,306.2 L202.7,307.1 L203.2,307.8 L203.6,308.3 L204.1,308.4 L204.6,308.0 L205.1,307.1 L205.5,305.7 L206.0,303.9 L206.5,302.0 L207.0,299.6 L207.5,296.8 L208.0,293.5 L208.5,290.0 L209.0,286.3 L209.4,282.2 L209.9,278.0 L210.4,273.9 L210.8,270.1 L211.3,267.0 L211.8,264.7 L212.2,262.8 L212.7,261.3 L213.1,260.1 L213.6,259.0 L214.0,258.0 L214.5,256.9 L214.9,255.8 L215.4,254.7 L215.9,253.7 L216.4,252.9 L216.9,252.4 L217.3,252.2 L217.8,252.5 L218.3,253.5 L218.7,255.2 L219.2,257.5 L219.7,260.1 L220.1,262.7 L220.6,265.0 L221.1,267.2 L221.5,269.5 L222.0,271.9 L222.4,274.2 L222.9,276.4 L223.3,278.3 L223.8,280.0 L224.3,281.2 L224.8,281.8 L225.2,282.2 L225.7,282.6 L226.2,283.3 L226.7,284.4 L227.1,285.7 L227.6,287.2 L228.0,288.6 L228.5,289.9 L228.9,290.8 L229.4,291.3 L229.9,291.3 L230.3,290.9 L230.8,290.3 L231.2,289.4 L231.7,288.5 L232.1,287.5 L232.6,286.5 L233.1,285.5 L233.5,284.4 L234.0,283.2 L234.5,282.0 L235.0,280.8 L235.4,279.6 L235.9,278.5 L236.4,277.5 L236.8,276.7 L237.3,275.9 L237.7,275.0 L238.2,274.2 L238.6,273.2 L239.1,272.1 L239.6,270.7 L240.1,269.1 L240.5,267.4 L241.0,265.7 L241.5,264.0 L242.0,261.9 L242.5,259.5 L243.0,257.7 L243.5,257.0 L244.0,257.7 L244.4,259.0 L244.9,260.9 L245.4,262.8 L245.8,264.6 L246.3,266.0 L246.8,267.0 L247.3,267.7 L247.8,268.4 L248.3,268.9 L248.8,269.5 L249.3,270.1 L249.8,271.0 L250.3,272.0 L250.8,273.2 L251.2,274.6 L251.7,276.2 L252.1,277.9 L252.6,279.6 L253.0,281.3 L253.5,283.0 L254.0,284.9 L254.5,286.8 L255.0,288.8 L255.5,290.8 L256.0,292.8 L256.5,294.6 L257.0,296.3 L257.5,297.8 L258.0,298.9 L258.5,299.7 L258.9,300.2 L259.4,300.3 L259.9,300.2 L260.4,299.8 L260.8,299.2 L261.3,298.4 L261.7,297.5 L262.2,296.5 L262.6,295.5 L263.1,294.5 L263.6,293.5 L264.0,292.6 L264.5,291.6 L264.9,290.5 L265.4,289.3 L265.8,288.0 L266.3,286.5 L266.8,284.7 L267.2,282.7 L267.7,280.6 L268.1,278.4 L268.6,276.1 L269.0,274.0 L269.5,272.1 L270.0,270.0 L270.5,267.7 L271.0,265.8 L271.5,264.4 L272.0,264.0 L272.5,264.6 L273.0,265.8 L273.5,267.5 L274.0,269.5 L274.5,271.8 L275.0,274.0 L275.5,276.5 L276.0,279.4 L276.5,282.5 L277.0,285.5 L277.5,288.0 L278.0,290.3 L278.5,292.6 L279.0,294.6 L279.5,296.0 L280.0,296.3 L280.5,295.9 L281.0,295.2 L281.5,294.3 L282.0,293.1 L282.5,291.8 L283.0,290.4 L283.5,288.9 L284.0,287.3 L284.5,285.7 L285.0,284.2 L285.5,282.6 L286.0,280.9 L286.5,279.0 L287.0,277.1 L287.5,275.2 L288.0,273.3 L288.5,271.3 L289.0,269.5 L289.5,267.8 L290.0,266.2 L290.5,264.9 L291.0,264.0 L291.5,263.3 L292.0,262.5 L292.5,261.6 L293.0,260.2 L293.4,258.4 L293.9,256.2 L294.3,253.7 L294.8,251.3 L295.2,249.1 L295.7,247.4 L296.1,246.5 L296.6,246.6 L297.1,247.8 L297.6,249.6 L298.1,251.5 L298.6,253.1 L299.1,254.0 L299.6,253.5 L300.1,252.0 L300.6,250.7 L301.1,250.5 L301.6,251.7 L302.1,253.5 L302.6,255.7 L303.1,258.1 L303.6,260.3 L304.1,262.2 L304.6,263.8 L305.1,265.4 L305.6,266.9 L306.1,268.2 L306.6,269.2 L307.1,270.0 L307.6,270.5 L308.1,270.7 L308.6,270.7 L309.1,270.6 L309.6,270.5 L310.1,270.4 L310.6,270.4 L311.1,270.5 L311.6,271.0 L312.1,271.7 L312.6,272.6 L313.1,273.3 L313.6,273.5 L314.1,273.2 L314.6,272.3 L315.1,271.1 L315.6,269.7 L316.1,268.0 L316.6,266.2 L317.1,264.3 L317.6,262.3 L318.1,260.2 L318.6,257.8 L319.1,255.1 L319.6,252.1 L320.1,249.1 L320.6,246.4 L321.1,244.1 L321.5,242.5 L322.0,241.2 L322.4,240.1 L322.9,239.1 L323.3,238.2 L323.8,237.2 L324.2,236.1 L324.7,234.7 L325.2,233.3 L325.7,231.9 L326.2,230.6 L326.7,229.3 L327.2,228.1 L327.7,227.1 L328.1,226.1 L328.6,225.2 L329.0,224.7 L329.5,224.5 L330.0,224.7 L330.4,225.1 L330.9,225.6 L331.4,226.2 L331.8,226.9 L332.3,227.7 L332.7,228.4 L333.2,229.1 L333.7,229.9 L334.2,230.7 L334.7,231.5 L335.2,232.4 L335.7,233.3 L336.2,234.1 L336.7,234.9 L337.1,235.7 L337.6,236.6 L338.1,237.4 L338.6,238.2 L339.1,238.9 L339.5,239.5 L340.0,240.0 L340.5,240.4 L341.0,240.9 L341.5,241.3 L342.0,241.7 L342.5,242.1 L343.0,242.4 L343.5,242.6 L344.0,242.7 L344.5,242.6 L345.0,242.4 L345.5,242.0 L346.0,241.5 L346.4,240.8 L346.9,240.0 L347.4,239.0 L347.8,238.0 L348.3,236.8 L348.7,235.5 L349.2,234.1 L349.7,232.7 L350.1,231.1 L350.6,229.5 L351.1,227.6 L351.6,225.6 L352.1,223.4 L352.6,221.2 L353.1,218.8 L353.6,216.4 L354.1,214.0 L354.6,211.6 L355.1,209.2 L355.6,206.8 L356.1,204.5 L356.6,202.3 L357.1,200.2 L357.6,198.0 L358.1,195.9 L358.6,193.8 L359.1,191.7 L359.6,189.7 L360.1,187.7 L360.6,185.7 L361.1,183.7 L361.6,181.8 L362.1,180.0 L362.6,178.2 L363.1,176.5 L363.6,174.7 L364.1,173.1 L364.6,171.4 L365.1,169.8 L365.6,168.3 L366.1,166.8 L366.6,165.3 L367.1,163.9 L367.6,162.6 L368.1,161.3 L368.6,160.1 L369.1,159.0 L369.5,158.0 L370.0,157.0 L370.5,156.0 L370.9,155.1 L371.4,154.3 L371.9,153.5 L372.4,152.7 L372.8,152.0 L373.3,151.3 L373.8,150.7 L374.2,150.1 L374.7,149.6 L375.2,149.1 L375.7,148.6 L376.2,148.1 L376.7,147.6 L377.2,147.2 L377.7,146.9 L378.2,146.5 L378.7,146.2 L379.2,146.0 L379.7,145.7 L380.2,145.6 L380.7,145.5 L381.2,145.4 L381.7,145.4 L382.2,145.5 L382.7,145.6 L383.2,145.8 L383.7,146.1 L384.2,146.3 L384.7,146.7 L385.2,147.1 L385.7,147.5 L386.2,148.0 L386.7,148.5 L387.2,149.1 L387.7,149.7 L388.2,150.4 L388.7,151.1 L389.2,151.8 L389.7,152.6 L390.2,153.4 L390.6,154.3 L391.1,155.2 L391.6,156.2 L392.1,157.2 L392.6,158.3 L393.0,159.5 L393.5,160.6 L394.0,161.7 L394.4,162.9 L394.9,164.0 L395.4,165.1 L395.9,166.2 L396.4,167.3 L396.8,168.3 L397.3,169.2 L397.8,170.0 L398.2,170.8 L398.7,171.4 L399.1,172.0 L399.6,172.6 L400.1,173.1 L400.5,173.6 L401.0,174.0 L401.5,174.4 L401.9,174.9 L402.4,175.4 L402.8,175.8 L403.3,176.2 L403.8,176.6 L404.2,176.9 L404.7,177.0 L405.1,177.1 L405.6,177.0 L406.1,176.7 L406.6,176.2 L407.1,175.6 L407.6,174.8 L408.0,173.9 L408.5,173.0 L409.0,172.0 L409.5,171.0 L410.0,170.0 L410.5,168.8 L411.0,167.7 L411.5,166.5 L412.0,165.2 L412.5,163.9 L413.0,162.6 L413.5,161.3 L414.0,160.0 L414.5,158.7 L415.0,157.4 L415.5,156.1 L416.0,154.8 L416.5,153.4 L417.0,152.1 L417.5,150.8 L418.0,149.4 L418.5,148.0 L419.0,146.6 L419.5,145.1 L420.0,143.6 L420.5,142.0 L421.0,140.4 L421.5,138.7 L421.9,137.0 L422.4,135.2 L422.9,133.3 L423.4,131.4 L423.9,129.5 L424.3,127.6 L424.8,125.8 L425.3,124.0 L425.8,122.2 L426.2,120.4 L426.7,118.5 L427.2,116.6 L427.7,114.7 L428.1,112.9 L428.6,111.1 L429.1,109.3 L429.6,107.7 L430.1,106.1 L430.5,104.7 L431.0,103.4 L431.5,102.2 L432.0,101.1 L432.5,100.1 L433.0,99.3 L433.5,98.5 L434.0,97.8 L434.5,97.1 L435.0,96.5 L435.5,96.0 L436.0,95.5 L436.5,95.0 L437.0,94.6 L437.5,94.2 L438.0,93.8 L438.5,93.5 L439.0,93.3 L439.5,93.1 L440.0,92.9 L440.5,92.8 L441.0,92.7 L441.5,92.6 L442.0,92.6 L442.5,92.6 L443.0,92.6 L443.5,92.6 L444.0,92.6 L444.5,92.7 L445.0,92.8 L445.5,92.9 L446.0,93.0 L446.5,93.2 L447.0,93.3 L447.5,93.5 L448.0,93.7 L448.5,93.9 L449.0,94.1 L449.5,94.4 L450.0,94.6 L450.5,94.8 L451.0,95.1 L451.5,95.3 L452.0,95.6 L452.5,95.8 L453.0,96.2 L453.5,96.5 L454.0,96.8 L454.5,97.2 L455.0,97.6 L455.5,97.9 L456.0,98.3 L456.5,98.6 L457.0,98.9 L457.5,99.2 L458.0,99.5 L458.5,99.7 L459.0,100.0 L459.4,100.2 L459.9,100.5 L460.4,100.7 L460.9,101.0 L461.4,101.2 L461.8,101.4 L462.3,101.5 L462.8,101.7 L463.3,101.8 L463.7,101.9 L464.2,101.9 L464.7,101.9 L465.2,101.8 L465.7,101.7 L466.2,101.6 L466.6,101.4 L467.1,101.2 L467.6,101.0 L468.1,100.7 L468.6,100.4 L469.1,100.1 L469.6,99.9 L470.1,99.6 L470.5,99.3 L471.0,99.0 L471.5,98.7 L472.0,98.5 L472.5,98.3 L473.0,98.0 L473.5,97.7 L474.0,97.5 L474.5,97.2 L475.0,96.9 L475.5,96.7 L476.0,96.4 L476.5,96.1 L477.0,95.9 L477.5,95.6 L478.0,95.4 L478.5,95.2 L479.0,95.0 L479.5,94.8 L480.0,94.6 L480.5,94.4 L481.0,94.3 L481.5,94.2 L482.0,94.0 L482.5,93.9 L483.0,93.8 L483.5,93.7 L484.0,93.6 L484.5,93.5 L485.0,93.4 L485.5,93.4 L486.0,93.3 L486.5,93.2 L487.0,93.1 L487.5,93.1 L488.0,93.0 L488.5,93.0 L489.0,92.9 L489.5,92.9 L490.0,92.8 L490.5,92.7 L491.0,92.7 L491.5,92.6 L492.0,92.6 L492.5,92.6 L493.0,92.5 L493.5,92.5 L494.0,92.4 L494.5,92.4 L495.0,92.4 L495.5,92.3 L496.0,92.3 L496.5,92.3 L497.0,92.3 L497.5,92.2 L498.0,92.2 L498.5,92.2 L499.0,92.2 L499.5,92.2 L500.0,92.2 L500.5,92.2 L501.0,92.2 L501.5,92.2 L502.0,92.2 L502.5,92.2 L503.0,92.3 L503.5,92.3 L504.0,92.4 L504.5,92.4 L505.0,92.5 L505.5,92.6 L506.0,92.7 L506.5,92.7 L507.0,92.8 L507.5,92.9 L508.0,93.0 L508.5,93.1 L509.0,93.2 L509.5,93.2 L510.0,93.3 L510.5,93.4 L510.9,93.4 L511.4,93.5 L511.9,93.5 L512.4,93.6 L512.9,93.7 L513.3,93.7 L513.8,93.8 L514.3,93.8 L514.8,93.9 L515.2,93.9 L515.7,94.0 L516.2,94.0 L516.6,94.0 L517.1,94.0 L517.6,94.0 L518.1,94.0 L518.6,93.9 L519.1,93.9 L519.6,93.8 L520.1,93.8 L520.6,93.7 L521.1,93.6 L521.5,93.5 L522.0,93.4 L522.5,93.4 L523.0,93.3 L523.5,93.2 L524.0,93.1 L524.5,93.1 L525.0,93.0 L525.5,93.0 L526.0,92.9 L526.5,92.9 L527.0,92.8 L527.5,92.8 L528.0,92.7 L528.5,92.7 L529.0,92.7 L529.5,92.6 L530.0,92.6 L530.5,92.5 L531.0,92.5 L531.5,92.5 L532.0,92.5 L532.5,92.4 L533.0,92.4 L533.5,92.4 L534.0,92.3 L534.5,92.3 L535.0,92.3 L535.5,92.3 L536.0,92.3 L536.5,92.2 L537.0,92.2 L537.5,92.2 L538.0,92.2 L538.5,92.2 L539.0,92.2 L539.5,92.2 L540.0,92.2 L540.5,92.2 L541.0,92.2 L541.5,92.2 L542.0,92.2 L542.5,92.2 L543.0,92.2 L543.5,92.2 L544.0,92.2 L544.5,92.2 L545.0,92.2" stroke="#888800"/>
<path d="M83.5,343.8 L83.9,345.1 L84.3,346.4 L84.8,347.7 L85.2,348.8 L85.7,349.9 L86.2,350.9 L86.7,351.8 L87.2,352.7 L87.7,353.4 L88.2,353.9 L88.7,354.6 L89.2,355.5 L89.7,356.7 L90.2,358.2 L90.6,359.9 L91.1,361.8 L91.6,364.3 L92.0,367.1 L92.5,369.5 L93.0,371.4 L93.5,373.1 L94.0,374.5 L94.5,375.5 L95.0,376.0 L95.4,376.3 L95.8,376.0 L96.3,375.0 L96.7,373.1 L97.2,370.1 L97.6,366.0 L98.0,359.8 L98.4,352.0 L98.8,344.8 L99.1,338.0 L99.5,331.8 L99.9,326.0 L100.3,320.0 L100.8,311.0 L101.3,303.0 L101.7,298.7 L102.1,295.4 L102.5,293.0 L103.0,291.2 L103.4,290.0 L103.8,289.2 L104.3,288.5 L104.8,287.8 L105.2,287.4 L105.7,287.5 L106.2,287.9 L106.6,288.6 L107.0,289.8 L107.5,292.0 L108.0,295.7 L108.5,300.2 L109.0,305.1 L109.5,310.2 L110.0,315.0 L110.5,319.9 L111.0,325.0 L111.5,330.0 L112.0,334.5 L112.5,338.0 L113.0,340.6 L113.5,343.0 L113.9,345.1 L114.4,347.0 L114.9,348.6 L115.3,349.8 L115.8,350.8 L116.3,351.5 L116.8,351.6 L117.2,351.1 L117.7,350.1 L118.1,348.6 L118.5,346.9 L119.0,345.0 L119.5,342.5 L120.0,339.5 L120.5,336.2 L121.0,332.8 L121.5,329.7 L122.0,327.0 L122.5,324.8 L122.9,322.5 L123.4,320.3 L123.9,318.2 L124.3,316.2 L124.8,314.5 L125.3,313.0 L125.7,311.8 L126.2,311.0 L126.7,310.8 L127.1,311.2 L127.6,312.3 L128.1,313.8 L128.5,315.8 L129.0,318.0 L129.5,320.9 L130.0,324.4 L130.5,328.4 L131.0,332.4 L131.5,336.4 L132.0,340.0 L132.5,343.3 L132.9,346.7 L133.4,350.2 L133.9,353.7 L134.3,357.0 L134.8,360.0 L135.3,362.6 L135.7,364.6 L136.2,366.0 L136.7,366.3 L137.1,365.5 L137.6,363.8 L138.1,361.3 L138.5,358.3 L139.0,355.0 L139.5,350.8 L140.0,345.7 L140.5,340.0 L141.0,334.0 L141.5,328.0 L142.0,321.8 L142.5,315.1 L143.0,308.4 L143.5,301.9 L144.0,296.0 L144.4,291.3 L144.9,286.9 L145.3,282.9 L145.8,279.2 L146.2,276.0 L146.6,273.0 L147.1,270.5 L147.6,268.8 L148.0,268.5 L148.4,269.3 L148.9,270.7 L149.3,272.6 L149.8,275.0 L150.2,277.8 L150.7,281.0 L151.2,284.9 L151.7,289.4 L152.2,294.1 L152.6,299.1 L153.1,304.1 L153.6,309.0 L154.1,313.7 L154.6,318.0 L155.1,322.2 L155.6,326.5 L156.1,330.8 L156.6,334.9 L157.0,338.6 L157.5,342.0 L158.0,344.7 L158.5,346.6 L159.0,347.2 L159.5,346.2 L160.0,344.0 L160.5,341.1 L161.0,338.0 L161.4,335.0 L161.9,331.5 L162.3,327.7 L162.8,323.6 L163.2,319.3 L163.7,315.0 L164.2,310.2 L164.6,304.9 L165.1,299.5 L165.5,294.4 L166.0,290.0 L166.5,285.6 L167.0,281.0 L167.4,276.6 L167.9,273.1 L168.4,270.9 L168.9,270.5 L169.4,271.5 L169.9,273.1 L170.3,275.3 L170.8,277.9 L171.3,280.8 L171.8,284.0 L172.3,287.5 L172.8,291.1 L173.2,294.8 L173.7,298.4 L174.2,302.0 L174.7,305.7 L175.1,309.8 L175.6,314.3 L176.1,319.0 L176.6,323.7 L177.0,328.4 L177.5,332.9 L178.0,337.2 L178.5,341.0 L178.9,344.3 L179.4,347.0 L179.8,348.4 L180.3,348.4 L180.7,347.3 L181.1,345.4 L181.6,342.9 L182.0,340.0 L182.5,336.3 L183.0,332.0 L183.5,327.3 L183.9,322.3 L184.4,317.2 L184.9,312.0 L185.4,306.9 L185.9,302.0 L186.3,297.8 L186.7,293.5 L187.2,289.3 L187.6,285.4 L188.0,282.0 L188.5,278.5 L189.0,275.2 L189.5,272.4 L190.0,270.3 L190.5,269.0 L191.0,268.6 L191.5,268.9 L192.0,269.9 L192.5,271.6 L193.0,274.0 L193.5,277.0 L194.0,280.4 L194.5,284.1 L195.0,288.1 L195.5,292.3 L196.0,296.5 L196.5,300.8 L197.0,305.0 L197.5,309.5 L198.0,314.4 L198.5,319.4 L199.0,324.2 L199.5,328.5 L200.0,332.0 L200.5,334.6 L200.9,336.9 L201.4,338.8 L201.9,340.3 L202.4,341.3 L202.8,341.9 L203.3,342.0 L203.8,341.5 L204.2,340.4 L204.7,338.7 L205.1,336.3 L205.6,333.4 L206.0,330.0 L206.5,325.2 L207.0,319.3 L207.5,312.8 L208.0,306.3 L208.5,300.2 L209.0,295.0 L209.5,290.8 L209.9,286.7 L210.4,282.7 L210.8,278.9 L211.3,275.4 L211.7,272.2 L212.2,269.3 L212.6,266.9 L213.1,265.0 L213.6,263.9 L214.1,264.0 L214.6,264.9 L215.0,266.4 L215.5,268.2 L216.0,270.0 L216.5,272.0 L217.0,274.3 L217.5,276.8 L218.0,279.5 L218.5,282.2 L219.0,284.9 L219.5,287.5 L220.0,290.0 L220.5,292.4 L221.0,294.8 L221.5,297.1 L222.0,299.3 L222.5,301.3 L223.0,303.0 L223.5,304.5 L224.0,305.9 L224.5,307.1 L225.0,308.0 L225.5,308.5 L226.0,308.5 L226.5,308.0 L227.0,307.1 L227.5,305.9 L228.0,304.2 L228.5,302.3 L229.0,300.0 L229.5,297.4 L230.0,294.4 L230.5,291.2 L231.0,287.8 L231.5,284.4 L232.0,281.1 L232.5,277.9 L233.0,275.0 L233.5,272.4 L234.0,269.8 L234.5,267.2 L234.9,264.8 L235.4,262.5 L235.9,260.5 L236.4,258.6 L236.9,257.0 L237.4,255.7 L237.8,254.6 L238.3,253.6 L238.7,252.7 L239.2,252.1 L239.6,251.6 L240.1,251.2 L240.5,251.0 L241.0,251.0 L241.5,251.3 L242.0,252.2 L242.5,253.4 L243.0,254.8 L243.5,256.4 L244.0,258.0 L244.5,259.7 L245.0,261.5 L245.5,263.4 L246.0,265.4 L246.5,267.4 L247.0,269.3 L247.5,271.2 L248.0,273.0 L248.5,274.7 L249.0,276.3 L249.5,277.9 L250.0,279.5 L250.5,281.0 L251.0,282.4 L251.5,283.8 L252.0,285.0 L252.5,286.2 L253.0,287.5 L253.5,288.8 L254.0,290.0 L254.5,291.1 L255.0,292.0 L255.5,292.6 L256.0,293.0 L256.5,293.0 L257.0,292.5 L257.5,291.6 L258.0,290.2 L258.5,288.5 L259.0,286.5 L259.5,284.3 L260.0,282.0 L260.5,279.2 L261.0,275.7 L261.5,271.9 L262.0,268.1 L262.5,264.7 L263.0,262.0 L263.5,260.0 L263.9,258.3 L264.4,256.9 L264.9,255.8 L265.4,254.9 L265.8,254.3 L266.3,254.0 L266.8,254.3 L267.2,255.3 L267.6,256.7 L268.1,258.2 L268.6,259.4 L269.0,260.0 L269.5,259.8 L270.0,259.1 L270.5,258.1 L271.0,257.2 L271.5,256.7 L272.0,257.0 L272.5,258.2 L273.0,260.1 L273.5,262.5 L274.0,265.0 L274.5,267.6 L275.0,270.0 L275.4,272.2 L275.9,274.8 L276.3,277.4 L276.7,279.7 L277.2,281.3 L277.6,282.0 L278.1,281.9 L278.5,281.6 L279.0,281.0 L279.5,280.2 L279.9,279.2 L280.4,278.0 L280.8,276.8 L281.3,275.5 L281.8,274.2 L282.2,272.9 L282.7,271.7 L283.2,270.4 L283.6,269.1 L284.1,267.6 L284.6,266.1 L285.0,264.6 L285.5,263.0 L286.0,261.5 L286.5,259.9 L286.9,258.4 L287.4,257.0 L287.9,255.5 L288.4,254.1 L288.9,252.7 L289.4,251.3 L289.8,249.9 L290.3,248.6 L290.8,247.2 L291.3,245.8 L291.8,244.5 L292.3,243.1 L292.8,241.6 L293.3,240.2 L293.8,238.7 L294.3,237.3 L294.8,235.9 L295.3,234.6 L295.8,233.5 L296.3,232.5 L296.8,231.6 L297.3,230.8 L297.8,230.1 L298.3,229.5 L298.8,229.0 L299.3,228.6 L299.8,228.3 L300.3,228.1 L300.8,228.0 L301.2,228.2 L301.7,228.7 L302.1,229.4 L302.6,230.3 L303.1,231.2 L303.5,232.0 L304.0,232.9 L304.5,233.8 L305.0,234.8 L305.4,235.8 L305.9,236.8 L306.4,237.7 L306.9,238.5 L307.3,239.1 L307.8,239.7 L308.2,240.2 L308.7,240.6 L309.1,241.0 L309.6,241.5 L310.0,242.0 L310.5,242.7 L311.0,243.5 L311.5,244.3 L312.0,245.2 L312.4,246.0 L312.9,246.7 L313.4,247.2 L313.9,247.5 L314.4,247.5 L314.8,247.0 L315.3,246.0 L315.7,244.6 L316.1,243.0 L316.6,241.4 L317.0,240.0 L317.5,238.6 L318.0,237.2 L318.5,235.8 L318.9,234.3 L319.4,232.8 L319.9,231.2 L320.4,229.5 L320.9,227.6 L321.4,225.7 L321.9,223.7 L322.4,221.7 L322.9,219.7 L323.4,217.6 L323.9,215.6 L324.4,213.5 L324.9,211.4 L325.4,209.4 L325.9,207.3 L326.4,205.3 L326.9,203.4 L327.3,201.4 L327.8,199.4 L328.3,197.4 L328.8,195.4 L329.2,193.4 L329.7,191.4 L330.2,189.4 L330.7,187.4 L331.1,185.5 L331.6,183.6 L332.1,181.8 L332.6,180.0 L333.1,178.3 L333.5,176.7 L334.0,175.2 L334.5,173.7 L335.0,172.3 L335.5,171.0 L336.0,169.7 L336.5,168.5 L337.0,167.4 L337.5,166.3 L338.0,165.3 L338.5,164.3 L339.0,163.3 L339.5,162.4 L340.0,161.4 L340.5,160.5 L341.0,159.6 L341.5,158.6 L342.0,157.7 L342.5,156.8 L343.0,155.9 L343.5,155.1 L344.0,154.4 L344.5,153.7 L345.0,153.1 L345.5,152.5 L346.0,152.0 L346.5,151.6 L346.9,151.2 L347.4,150.8 L347.8,150.5 L348.3,150.2 L348.8,150.0 L349.2,149.8 L349.7,149.7 L350.1,149.6 L350.6,149.6 L351.1,149.7 L351.6,149.8 L352.1,150.0 L352.6,150.3 L353.0,150.6 L353.5,151.0 L354.0,151.5 L354.5,152.0 L355.0,152.5 L355.5,153.1 L355.9,153.7 L356.4,154.4 L356.8,155.2 L357.3,156.0 L357.8,156.8 L358.2,157.6 L358.7,158.4 L359.1,159.3 L359.6,160.1 L360.1,161.0 L360.6,161.9 L361.1,162.9 L361.6,163.9 L362.1,164.9 L362.6,165.9 L363.1,166.9 L363.6,167.8 L364.1,168.8 L364.6,169.7 L365.1,170.6 L365.6,171.5 L366.1,172.3 L366.6,173.0 L367.1,173.7 L367.6,174.3 L368.0,174.9 L368.5,175.4 L369.0,175.9 L369.4,176.4 L369.9,176.8 L370.4,177.1 L370.9,177.4 L371.3,177.6 L371.8,177.6 L372.3,177.6 L372.7,177.5 L373.2,177.3 L373.7,176.9 L374.2,176.4 L374.7,175.8 L375.2,175.1 L375.7,174.3 L376.2,173.3 L376.7,172.3 L377.2,171.2 L377.7,170.1 L378.2,168.8 L378.7,167.5 L379.2,166.2 L379.7,164.8 L380.2,163.3 L380.6,161.6 L381.1,159.9 L381.6,158.1 L382.1,156.2 L382.6,154.3 L383.1,152.4 L383.6,150.5 L384.0,148.6 L384.5,146.8 L385.0,145.0 L385.5,143.2 L386.0,141.5 L386.5,139.8 L387.0,138.1 L387.5,136.4 L388.0,134.6 L388.5,132.8 L389.0,131.0 L389.5,129.2 L389.9,127.4 L390.4,125.5 L390.9,123.5 L391.3,121.6 L391.8,119.6 L392.3,117.7 L392.7,115.9 L393.2,114.0 L393.7,112.3 L394.1,110.7 L394.6,109.2 L395.1,107.7 L395.6,106.4 L396.1,105.0 L396.5,103.7 L397.0,102.5 L397.5,101.4 L398.0,100.3 L398.5,99.3 L398.9,98.4 L399.4,97.5 L399.9,96.7 L400.4,96.0 L400.9,95.4 L401.3,94.8 L401.8,94.3 L402.3,93.8 L402.8,93.4 L403.2,93.1 L403.7,92.8 L404.2,92.5 L404.6,92.3 L405.1,92.1 L405.6,91.9 L406.1,91.8 L406.5,91.8 L407.0,91.7 L407.5,91.7 L408.0,91.7 L408.5,91.7 L409.0,91.8 L409.5,91.8 L410.0,91.9 L410.5,92.1 L411.0,92.2 L411.5,92.4 L412.0,92.6 L412.5,92.8 L413.0,93.0 L413.5,93.2 L414.0,93.4 L414.5,93.6 L415.0,93.9 L415.5,94.1 L416.0,94.4 L416.5,94.6 L417.0,94.9 L417.5,95.2 L418.0,95.5 L418.5,95.9 L419.0,96.2 L419.5,96.6 L420.0,97.0 L420.5,97.4 L421.0,97.9 L421.5,98.3 L422.0,98.7 L422.5,99.0 L423.0,99.4 L423.5,99.7 L424.0,100.0 L424.5,100.3 L424.9,100.5 L425.4,100.8 L425.9,101.1 L426.4,101.3 L426.8,101.5 L427.3,101.8 L427.8,102.0 L428.3,102.2 L428.7,102.3 L429.2,102.5 L429.7,102.5 L430.2,102.6 L430.6,102.6 L431.1,102.6 L431.6,102.5 L432.1,102.4 L432.6,102.3 L433.0,102.2 L433.5,102.0 L434.0,101.9 L434.5,101.7 L435.0,101.5 L435.5,101.2 L436.0,101.0 L436.4,100.8 L436.9,100.5 L437.4,100.3 L437.9,100.0 L438.4,99.7 L438.9,99.5 L439.4,99.2 L439.8,98.9 L440.3,98.7 L440.8,98.4 L441.3,98.2 L441.8,98.0 L442.3,97.7 L442.8,97.4 L443.2,97.1 L443.7,96.9 L444.2,96.6 L444.7,96.3 L445.2,96.0 L445.6,95.7 L446.1,95.4 L446.6,95.1 L447.1,94.8 L447.6,94.6 L448.1,94.3 L448.6,94.1 L449.0,93.9 L449.5,93.7 L450.0,93.5 L450.5,93.4 L451.0,93.2 L451.5,93.1 L452.0,93.0 L452.5,92.9 L453.0,92.8 L453.5,92.7 L454.0,92.7 L454.5,92.6 L455.0,92.6 L455.5,92.6 L456.0,92.5 L456.5,92.5 L457.0,92.5 L457.5,92.4 L458.0,92.4 L458.5,92.4 L459.0,92.4 L459.5,92.3 L460.0,92.3 L460.5,92.3 L461.0,92.2 L461.5,92.2 L462.0,92.2 L462.5,92.2 L463.0,92.2 L463.5,92.2 L464.0,92.2 L464.5,92.2 L465.0,92.2 L465.5,92.2 L466.0,92.2 L466.5,92.2 L467.0,92.2 L467.5,92.2 L468.0,92.2 L468.5,92.2 L469.0,92.2 L469.5,92.2 L470.0,92.2" stroke="#FA6000"/>
<path d="M83.5,343.8 L83.9,345.1 L84.3,346.4 L84.8,347.7 L85.2,348.8 L85.7,349.9 L86.2,350.9 L86.7,351.8 L87.2,352.7 L87.7,353.4 L88.2,353.9 L88.7,354.6 L89.2,355.5 L89.7,356.7 L90.2,358.2 L90.6,359.9 L91.1,361.8 L91.6,364.3 L92.0,367.1 L92.5,369.5 L93.0,371.4 L93.5,373.1 L94.0,374.5 L94.5,375.5 L95.0,376.0 L95.4,376.3 L95.8,376.0 L96.3,375.0 L96.7,373.1 L97.2,370.1 L97.6,366.0 L98.0,359.8 L98.4,352.0 L98.8,344.8 L99.1,338.0 L99.5,331.8 L99.9,326.0 L100.3,320.0 L100.8,311.1 L101.3,303.0 L101.7,298.4 L102.1,294.8 L102.5,292.0 L103.0,289.5 L103.4,287.5 L103.8,285.9 L104.3,284.5 L104.8,283.2 L105.3,282.3 L105.8,282.0 L106.2,282.3 L106.6,283.0 L107.0,284.0 L107.4,285.0 L107.9,286.3 L108.4,287.8 L108.9,289.5 L109.4,291.4 L109.8,293.2 L110.2,295.4 L110.6,297.7 L111.0,300.0 L111.5,302.9 L112.0,305.9 L112.5,308.9 L113.0,311.9 L113.5,315.0 L114.0,318.3 L114.5,321.7 L115.0,325.0 L115.5,328.0 L115.9,330.3 L116.3,332.5 L116.8,334.1 L117.2,335.0 L117.7,335.0 L118.1,334.4 L118.5,333.1 L119.0,331.0 L119.5,328.0 L120.0,324.4 L120.5,320.4 L121.0,316.2 L121.5,312.0 L122.0,307.7 L122.5,303.1 L123.0,298.4 L123.5,294.0 L124.0,290.0 L124.5,286.5 L125.0,283.3 L125.5,280.3 L126.0,277.4 L126.5,274.5 L127.0,271.5 L127.5,268.2 L128.0,264.8 L128.5,261.7 L129.0,259.0 L129.5,257.0 L129.9,255.8 L130.4,256.0 L130.8,257.4 L131.3,259.4 L131.7,261.8 L132.2,264.4 L132.6,267.0 L133.0,269.5 L133.4,272.3 L133.8,275.2 L134.2,278.0 L134.7,281.1 L135.1,284.1 L135.6,287.1 L136.0,290.1 L136.5,293.0 L137.0,296.2 L137.5,299.3 L138.0,302.3 L138.5,305.0 L138.9,307.3 L139.4,309.7 L139.8,311.8 L140.3,313.5 L140.7,314.4 L141.2,314.6 L141.6,314.2 L142.1,313.3 L142.5,311.9 L143.0,310.0 L143.5,307.4 L144.0,304.2 L144.5,300.7 L145.0,297.1 L145.5,293.4 L146.0,290.0 L146.4,287.0 L146.9,283.9 L147.3,280.8 L147.8,277.8 L148.2,274.8 L148.7,271.9 L149.2,269.3 L149.6,267.0 L150.1,264.6 L150.6,262.4 L151.1,260.5 L151.6,259.0 L152.1,258.1 L152.6,258.0 L153.1,258.8 L153.5,260.4 L153.9,262.5 L154.4,265.1 L154.9,267.6 L155.3,270.0 L155.8,272.5 L156.3,275.1 L156.8,277.8 L157.2,280.5 L157.7,283.1 L158.2,285.4 L158.7,287.5 L159.2,289.2 L159.6,290.7 L160.1,292.0 L160.6,293.2 L161.1,294.2 L161.5,295.1 L162.0,296.0 L162.4,296.8 L162.9,297.4 L163.3,297.7 L163.8,297.8 L164.2,297.5 L164.7,296.8 L165.1,295.8 L165.6,294.7 L166.1,293.3 L166.5,291.7 L167.0,290.0 L167.5,288.0 L168.0,285.9 L168.5,283.7 L169.0,281.4 L169.4,279.1 L169.9,276.7 L170.4,274.4 L170.9,272.2 L171.4,270.0 L171.9,268.1 L172.3,266.4 L172.8,264.7 L173.2,263.1 L173.7,261.4 L174.1,259.5 L174.6,257.5 L175.1,255.1 L175.5,252.2 L176.0,249.2 L176.4,246.2 L176.9,243.5 L177.3,241.4 L177.8,240.0 L178.3,240.0 L178.8,241.5 L179.2,243.5 L179.7,245.4 L180.2,246.3 L180.7,245.4 L181.1,243.3 L181.6,241.5 L182.1,241.4 L182.6,243.4 L183.1,246.5 L183.6,250.1 L184.0,253.7 L184.5,256.9 L185.0,259.1 L185.5,260.2 L185.9,260.6 L186.4,260.6 L186.8,260.5 L187.3,260.3 L187.7,260.3 L188.2,260.7 L188.7,261.5 L189.2,262.6 L189.6,263.8 L190.1,265.1 L190.6,266.5 L191.1,267.7 L191.6,268.9 L192.0,269.9 L192.5,270.6 L193.0,271.0 L193.4,271.0 L193.9,270.5 L194.3,269.7 L194.8,268.6 L195.2,267.3 L195.7,265.8 L196.1,264.3 L196.6,262.4 L197.1,260.4 L197.6,258.2 L198.1,255.8 L198.6,253.4 L199.1,251.0 L199.6,248.6 L200.1,246.3 L200.6,244.0 L201.1,241.8 L201.6,239.5 L202.1,237.3 L202.6,235.0 L203.1,232.8 L203.6,230.5 L204.1,228.2 L204.6,225.8 L205.1,223.3 L205.6,220.8 L206.1,218.4 L206.6,216.1 L207.1,214.1 L207.6,212.3 L208.1,210.6 L208.6,209.1 L209.1,207.6 L209.6,206.2 L210.1,204.8 L210.6,203.5 L211.1,202.1 L211.6,200.8 L212.1,199.5 L212.6,198.3 L213.1,197.1 L213.6,196.1 L214.1,195.1 L214.6,194.3 L215.0,193.5 L215.5,192.8 L215.9,192.1 L216.4,191.4 L216.8,190.8 L217.3,190.2 L217.7,189.6 L218.2,189.0 L218.7,188.4 L219.2,187.8 L219.7,187.3 L220.2,186.8 L220.7,186.3 L221.2,185.8 L221.7,185.4 L222.2,185.0 L222.7,184.6 L223.2,184.2 L223.7,183.9 L224.2,183.6 L224.7,183.3 L225.2,183.1 L225.7,183.0 L226.2,183.0 L226.7,183.1 L227.2,183.3 L227.7,183.5 L228.2,183.8 L228.7,184.1 L229.2,184.4 L229.7,184.8 L230.2,185.2 L230.7,185.6 L231.2,186.0 L231.7,186.4 L232.2,186.9 L232.7,187.5 L233.2,188.0 L233.7,188.6 L234.2,189.1 L234.7,189.6 L235.2,190.0 L235.7,190.4 L236.2,190.7 L236.7,191.0 L237.2,191.1 L237.7,191.1 L238.2,191.0 L238.7,190.7 L239.2,190.1 L239.7,189.5 L240.2,188.7 L240.7,187.9 L241.2,187.0 L241.6,186.2 L242.1,185.3 L242.5,184.5 L243.0,183.5 L243.4,182.4 L243.9,181.3 L244.3,180.0 L244.7,178.6 L245.2,176.9 L245.6,175.2 L246.0,173.3 L246.5,171.5 L246.9,169.7 L247.4,167.7 L247.9,165.8 L248.4,163.8 L248.9,161.8 L249.4,159.8 L249.8,157.8 L250.3,155.9 L250.8,153.9 L251.3,151.9 L251.8,150.0 L252.3,148.0 L252.8,146.0 L253.3,144.0 L253.8,142.0 L254.3,140.0 L254.8,138.0 L255.3,136.0 L255.8,134.1 L256.3,132.1 L256.8,130.1 L257.3,128.2 L257.8,126.3 L258.3,124.4 L258.8,122.5 L259.3,120.7 L259.8,118.9 L260.3,117.1 L260.8,115.3 L261.3,113.5 L261.8,111.7 L262.3,110.0 L262.8,108.4 L263.2,106.8 L263.7,105.2 L264.1,103.6 L264.6,102.1 L265.1,100.6 L265.5,99.3 L266.0,98.0 L266.5,96.7 L267.0,95.6 L267.5,94.5 L268.0,93.4 L268.5,92.5 L269.0,91.6 L269.5,90.8 L270.0,90.0 L270.4,89.4 L270.9,88.8 L271.3,88.4 L271.8,88.0 L272.2,87.7 L272.7,87.5 L273.1,87.4 L273.6,87.4 L274.1,87.4 L274.6,87.6 L275.1,87.8 L275.5,88.0 L276.0,88.3 L276.5,88.6 L277.0,89.0 L277.5,89.4 L278.0,89.8 L278.5,90.3 L279.0,90.8 L279.5,91.3 L280.0,91.8 L280.5,92.4 L281.0,92.9 L281.5,93.4 L282.0,94.0 L282.5,94.5 L283.0,95.0 L283.5,95.5 L284.0,96.1 L284.5,96.6 L285.0,97.2 L285.5,97.7 L286.0,98.3 L286.5,98.8 L287.0,99.2 L287.5,99.6 L288.0,100.0 L288.5,100.3 L289.0,100.6 L289.5,100.9 L290.0,101.1 L290.5,101.3 L290.9,101.5 L291.4,101.7 L291.9,101.8 L292.4,102.0 L292.9,102.0 L293.4,102.1 L293.9,102.1 L294.4,102.1 L294.8,102.0 L295.3,101.9 L295.8,101.8 L296.2,101.7 L296.7,101.5 L297.2,101.3 L297.7,101.1 L298.1,100.9 L298.6,100.7 L299.1,100.4 L299.5,100.2 L300.0,100.0 L300.5,99.8 L301.0,99.5 L301.5,99.3 L302.0,99.1 L302.5,98.8 L303.0,98.6 L303.5,98.3 L304.0,98.0 L304.5,97.8 L305.0,97.5 L305.5,97.2 L306.0,97.0 L306.5,96.7 L307.0,96.5 L307.5,96.2 L308.0,96.0 L308.5,95.7 L309.0,95.5 L309.5,95.2 L310.0,95.0 L310.5,94.8 L311.0,94.5 L311.5,94.3 L312.0,94.1 L312.5,93.8 L313.0,93.6 L313.4,93.4 L313.9,93.1 L314.4,92.9 L314.9,92.7 L315.4,92.4 L315.9,92.2 L316.4,92.0 L316.9,91.8 L317.4,91.5 L317.9,91.3 L318.4,91.2 L318.9,91.0 L319.3,90.8 L319.8,90.6 L320.3,90.5 L320.8,90.3 L321.3,90.2 L321.8,90.1 L322.3,90.0 L322.8,89.9 L323.3,89.9 L323.8,89.8 L324.3,89.8 L324.7,89.7 L325.2,89.7 L325.7,89.7 L326.2,89.7 L326.7,89.7 L327.2,89.8 L327.7,89.8 L328.2,89.8 L328.6,89.9 L329.1,89.9 L329.6,90.0 L330.1,90.0 L330.6,90.1 L331.1,90.1 L331.6,90.2 L332.1,90.2 L332.6,90.3 L333.0,90.3 L333.5,90.4 L334.0,90.4 L334.5,90.5 L335.0,90.5 L335.5,90.5 L336.0,90.6 L336.5,90.6 L337.0,90.6 L337.5,90.7 L338.0,90.7 L338.5,90.7 L339.0,90.8 L339.5,90.8 L340.0,90.8 L340.5,90.9 L341.0,90.9 L341.5,91.0 L342.0,91.0 L342.5,91.0 L343.0,91.1 L343.5,91.1 L344.0,91.1 L344.5,91.2 L345.0,91.2 L345.5,91.3 L346.0,91.3 L346.5,91.3 L347.0,91.4 L347.5,91.4 L348.0,91.4 L348.5,91.4 L349.0,91.5 L349.5,91.5 L350.0,91.5 L350.5,91.5 L351.0,91.5 L351.5,91.6 L352.0,91.6 L352.5,91.6 L353.0,91.6 L353.5,91.6 L354.0,91.6 L354.5,91.7 L355.0,91.7 L355.5,91.7 L356.0,91.7 L356.5,91.7 L357.0,91.7 L357.5,91.7 L358.0,91.8 L358.5,91.8 L359.0,91.8 L359.5,91.8 L360.0,91.8 L360.5,91.8 L361.0,91.8 L361.5,91.9 L362.0,91.9 L362.5,91.9 L363.0,91.9 L363.5,91.9 L364.0,91.9 L364.5,91.9 L365.0,91.9 L365.5,92.0 L366.0,92.0 L366.5,92.0 L367.0,92.0 L367.5,92.0 L368.0,92.0 L368.5,92.0 L369.0,92.0 L369.5,92.0 L370.0,92.0 L370.5,92.0 L371.0,92.1 L371.5,92.1 L372.0,92.1 L372.5,92.1 L373.0,92.1 L373.5,92.1 L374.0,92.1 L374.5,92.1 L375.0,92.1 L375.5,92.1 L376.0,92.1 L376.5,92.1 L377.0,92.1 L377.5,92.1 L378.0,92.1 L378.5,92.1 L379.0,92.2 L379.5,92.2 L380.0,92.2 L380.5,92.2 L381.0,92.2 L381.5,92.2 L382.0,92.2 L382.5,92.2 L383.0,92.2 L383.5,92.2 L384.0,92.2 L384.5,92.2 L385.0,92.2 L385.5,92.2 L386.0,92.2 L386.5,92.2 L387.0,92.2 L387.5,92.2 L388.0,92.2 L388.5,92.2 L389.0,92.2 L389.5,92.2 L390.0,92.2 L390.5,92.2 L391.0,92.2 L391.5,92.2 L392.0,92.2 L392.5,92.2 L393.0,92.2 L393.5,92.2 L394.0,92.2 L394.5,92.2 L395.0,92.2 L395.5,92.2 L396.0,92.2 L396.5,92.2 L397.0,92.2 L397.5,92.2 L398.0,92.2 L398.5,92.2 L399.0,92.2 L399.5,92.2 L400.0,92.2 L400.5,92.2 L401.0,92.2 L401.5,92.2 L402.0,92.2 L402.5,92.2 L403.0,92.2 L403.5,92.2 L404.0,92.2 L404.5,92.2 L405.0,92.2 L405.5,92.2 L406.0,92.2 L406.5,92.2 L407.0,92.2 L407.5,92.2 L408.0,92.2 L408.5,92.2 L409.0,92.2 L409.5,92.2 L410.0,92.2 L410.5,92.2 L411.0,92.2 L411.5,92.2 L412.0,92.2 L412.5,92.2 L413.0,92.2 L413.5,92.2 L414.0,92.2 L414.5,92.2 L415.0,92.2 L415.5,92.2 L416.0,92.2 L416.5,92.2 L417.0,92.2 L417.5,92.2 L418.0,92.2 L418.5,92.2 L419.0,92.2 L419.5,92.2 L420.0,92.2 L420.5,92.2 L421.0,92.2 L421.5,92.2 L422.0,92.2 L422.5,92.2 L423.0,92.2 L423.5,92.2 L424.0,92.2 L424.5,92.2 L425.0,92.2 L425.5,92.2 L426.0,92.2 L426.5,92.2 L427.0,92.2 L427.5,92.2 L428.0,92.2 L428.5,92.2 L429.0,92.2 L429.5,92.2 L430.0,92.2 L430.5,92.2 L431.0,92.2 L431.5,92.2 L432.0,92.2 L432.5,92.2 L433.0,92.2 L433.5,92.2 L434.0,92.2 L434.5,92.2 L435.0,92.2 L435.5,92.2 L436.0,92.2 L436.5,92.2 L437.0,92.2 L437.5,92.2 L438.0,92.2 L438.5,92.2 L439.0,92.2 L439.5,92.2 L440.0,92.2" stroke="#5E93CB"/>
<path d="M83.5,343.8 L83.9,345.1 L84.3,346.4 L84.8,347.7 L85.2,348.8 L85.7,349.9 L86.2,350.9 L86.7,351.8 L87.2,352.7 L87.7,353.4 L88.2,353.9 L88.7,354.6 L89.2,355.5 L89.7,356.7 L90.2,358.2 L90.6,359.9 L91.1,361.8 L91.6,364.3 L92.0,367.1 L92.5,369.5 L93.0,371.4 L93.5,373.1 L94.0,374.5 L94.5,375.5 L95.0,376.0 L95.4,376.3 L95.8,376.0 L96.3,375.0 L96.7,373.1 L97.2,370.1 L97.6,366.0 L98.0,359.8 L98.4,352.0 L98.8,344.8 L99.1,338.0 L99.5,331.8 L99.9,326.0 L100.3,320.0 L100.8,311.3 L101.3,303.0 L101.7,298.1 L102.0,293.8 L102.4,290.0 L102.8,286.0 L103.2,282.3 L103.6,278.9 L104.0,276.0 L104.4,273.7 L104.8,271.8 L105.2,270.4 L105.6,269.5 L106.1,269.2 L106.5,269.8 L107.0,271.0 L107.5,272.7 L108.0,274.8 L108.4,277.0 L108.9,279.3 L109.4,281.5 L109.9,283.6 L110.3,285.7 L110.8,287.9 L111.3,290.0 L111.8,292.1 L112.2,294.0 L112.7,295.8 L113.2,297.4 L113.6,299.0 L114.1,300.4 L114.6,301.7 L115.1,302.9 L115.5,304.0 L116.0,305.0 L116.4,305.8 L116.9,306.5 L117.3,307.0 L117.7,307.3 L118.2,307.3 L118.6,307.0 L119.1,306.3 L119.5,305.1 L120.0,303.1 L120.5,300.0 L121.0,296.0 L121.4,291.4 L121.9,286.3 L122.3,281.1 L122.8,276.0 L123.2,271.2 L123.7,267.0 L124.2,263.4 L124.6,260.4 L125.1,257.7 L125.6,255.2 L126.0,252.7 L126.5,250.0 L126.9,247.3 L127.4,244.5 L127.8,241.7 L128.2,238.9 L128.7,236.4 L129.1,234.0 L129.6,231.7 L130.1,229.8 L130.5,228.2 L131.0,227.0 L131.5,226.1 L132.0,225.5 L132.5,225.2 L133.0,225.3 L133.5,225.7 L134.0,226.5 L134.5,227.6 L135.0,229.0 L135.5,230.5 L136.0,232.3 L136.4,234.1 L136.9,236.0 L137.4,237.9 L137.9,239.6 L138.3,241.1 L138.8,242.6 L139.2,244.0 L139.6,245.4 L140.1,246.7 L140.5,248.0 L141.0,249.4 L141.5,250.7 L141.9,252.0 L142.4,253.2 L142.9,254.2 L143.4,255.1 L143.8,255.8 L144.3,256.5 L144.8,257.1 L145.2,257.6 L145.7,257.9 L146.1,258.2 L146.6,258.2 L147.0,258.0 L147.5,257.6 L148.0,257.0 L148.5,256.2 L149.0,255.1 L149.5,253.7 L150.0,252.1 L150.5,250.0 L151.0,247.1 L151.5,243.2 L152.0,238.9 L152.5,234.6 L153.0,231.0 L153.5,228.0 L154.0,225.2 L154.4,222.4 L154.9,219.8 L155.4,217.1 L155.9,214.6 L156.3,212.0 L156.8,209.5 L157.3,207.0 L157.8,204.5 L158.2,202.1 L158.7,199.7 L159.2,197.3 L159.6,194.9 L160.1,192.6 L160.6,190.4 L161.0,188.1 L161.5,186.0 L162.0,184.0 L162.4,182.0 L162.9,180.2 L163.4,178.4 L163.8,176.6 L164.3,174.8 L164.8,172.9 L165.2,171.0 L165.7,169.0 L166.2,166.6 L166.7,164.0 L167.2,161.3 L167.7,158.6 L168.2,156.0 L168.6,153.8 L169.1,151.7 L169.6,149.7 L170.0,148.0 L170.5,146.3 L171.0,144.7 L171.5,143.3 L172.0,141.8 L172.5,140.4 L173.0,139.0 L173.5,137.6 L173.9,136.2 L174.4,134.8 L174.9,133.4 L175.4,132.1 L175.9,130.7 L176.3,129.4 L176.8,128.1 L177.3,126.9 L177.7,125.7 L178.2,124.6 L178.6,123.5 L179.1,122.3 L179.5,121.2 L180.0,120.1 L180.5,118.9 L180.9,117.8 L181.4,116.6 L181.8,115.4 L182.3,114.3 L182.7,113.1 L183.2,112.1 L183.7,111.1 L184.1,110.1 L184.6,109.1 L185.1,108.1 L185.6,107.3 L186.0,106.4 L186.5,105.7 L187.0,105.0 L187.5,104.3 L188.0,103.7 L188.5,103.1 L189.0,102.5 L189.5,102.0 L190.0,101.6 L190.5,101.2 L191.0,100.9 L191.5,100.6 L192.0,100.4 L192.5,100.2 L193.0,100.1 L193.5,100.1 L194.0,100.0 L194.5,100.0 L195.0,100.0 L195.5,100.1 L196.0,100.2 L196.5,100.3 L197.0,100.5 L197.5,100.7 L198.0,100.9 L198.5,101.2 L199.0,101.5 L199.5,101.9 L200.0,102.4 L200.5,102.8 L201.0,103.3 L201.5,103.8 L202.0,104.4 L202.5,104.9 L203.0,105.4 L203.4,105.9 L203.9,106.5 L204.3,107.1 L204.8,107.7 L205.2,108.3 L205.7,108.9 L206.2,109.5 L206.6,110.2 L207.1,110.9 L207.5,111.6 L208.0,112.3 L208.4,113.0 L208.9,113.7 L209.3,114.4 L209.8,115.0 L210.2,115.7 L210.7,116.4 L211.1,117.1 L211.6,117.8 L212.0,118.5 L212.5,119.3 L213.0,120.1 L213.5,120.9 L214.0,121.8 L214.5,122.6 L215.0,123.5 L215.5,124.4 L216.0,125.3 L216.5,126.1 L217.0,127.0 L217.5,127.9 L218.0,128.8 L218.4,129.7 L218.9,130.6 L219.4,131.5 L219.9,132.4 L220.4,133.3 L220.9,134.3 L221.4,135.2 L221.9,136.1 L222.4,137.1 L222.9,138.1 L223.4,139.1 L223.9,140.0 L224.4,141.0 L224.8,142.0 L225.3,143.0 L225.8,144.0 L226.3,145.0 L226.8,146.0 L227.3,147.0 L227.8,148.0 L228.3,149.0 L228.8,150.0 L229.3,151.1 L229.8,152.1 L230.3,153.2 L230.8,154.2 L231.3,155.3 L231.8,156.3 L232.3,157.3 L232.8,158.3 L233.3,159.2 L233.8,160.1 L234.3,160.9 L234.8,161.7 L235.3,162.4 L235.8,163.1 L236.3,163.7 L236.8,164.2 L237.3,164.6 L237.8,164.8 L238.3,164.9 L238.8,164.8 L239.3,164.7 L239.8,164.4 L240.3,164.0 L240.8,163.4 L241.3,162.7 L241.8,161.9 L242.3,160.9 L242.8,159.8 L243.3,158.6 L243.7,157.2 L244.2,155.8 L244.7,154.3 L245.2,152.7 L245.7,151.1 L246.1,149.5 L246.6,147.9 L247.1,146.4 L247.6,144.9 L248.1,143.3 L248.6,141.6 L249.0,140.0 L249.5,138.4 L250.0,136.8 L250.5,135.3 L250.9,133.9 L251.4,132.5 L251.8,131.1 L252.3,129.6 L252.7,128.2 L253.2,126.8 L253.6,125.4 L254.1,124.0 L254.6,122.6 L255.0,121.1 L255.5,119.7 L255.9,118.2 L256.4,116.7 L256.9,115.3 L257.3,113.8 L257.8,112.4 L258.2,111.0 L258.7,109.6 L259.1,108.3 L259.6,107.0 L260.1,105.7 L260.6,104.4 L261.1,103.1 L261.6,101.9 L262.0,100.8 L262.5,99.7 L263.0,98.8 L263.5,98.0 L264.0,97.3 L264.5,96.6 L265.0,96.0 L265.5,95.6 L266.0,95.1 L266.5,94.8 L267.0,94.5 L267.5,94.2 L268.0,94.0 L268.5,93.9 L269.0,93.8 L269.5,93.9 L270.0,94.0 L270.5,94.2 L271.0,94.4 L271.5,94.7 L272.0,95.0 L272.5,95.3 L273.0,95.7 L273.5,96.1 L274.0,96.5 L274.5,96.9 L275.0,97.3 L275.5,97.8 L276.0,98.2 L276.5,98.7 L277.0,99.1 L277.5,99.6 L278.0,100.0 L278.5,100.4 L279.0,100.9 L279.5,101.3 L280.0,101.7 L280.5,102.2 L281.0,102.6 L281.5,103.1 L282.0,103.5 L282.5,103.9 L283.0,104.3 L283.5,104.7 L284.0,105.0 L284.5,105.3 L285.0,105.6 L285.4,106.0 L285.9,106.3 L286.4,106.6 L286.9,106.8 L287.4,107.1 L287.9,107.3 L288.4,107.5 L288.8,107.7 L289.3,107.8 L289.8,107.9 L290.3,107.9 L290.7,107.9 L291.2,107.9 L291.7,107.8 L292.2,107.7 L292.6,107.5 L293.1,107.4 L293.6,107.2 L294.1,106.9 L294.5,106.7 L295.0,106.5 L295.5,106.2 L296.0,106.0 L296.5,105.7 L297.0,105.3 L297.5,105.0 L298.0,104.6 L298.5,104.3 L299.0,103.9 L299.5,103.6 L300.0,103.2 L300.5,102.9 L301.0,102.6 L301.5,102.3 L302.0,102.0 L302.5,101.7 L303.0,101.5 L303.5,101.2 L304.0,100.9 L304.5,100.7 L305.0,100.4 L305.5,100.1 L306.0,99.9 L306.5,99.6 L306.9,99.4 L307.4,99.2 L307.9,98.9 L308.4,98.7 L308.9,98.5 L309.4,98.3 L309.9,98.1 L310.4,98.0 L310.9,97.8 L311.4,97.7 L311.9,97.6 L312.4,97.5 L312.8,97.4 L313.3,97.4 L313.8,97.4 L314.3,97.3 L314.7,97.3 L315.2,97.3 L315.7,97.4 L316.2,97.4 L316.7,97.4 L317.1,97.4 L317.6,97.5 L318.1,97.5 L318.6,97.5 L319.0,97.6 L319.5,97.6 L320.0,97.6 L320.5,97.6 L321.0,97.6 L321.5,97.7 L322.0,97.7 L322.5,97.7 L323.0,97.8 L323.5,97.8 L324.0,97.8 L324.5,97.9 L325.0,97.9 L325.5,98.0 L326.0,98.0 L326.5,98.0 L327.0,98.1 L327.5,98.1 L328.0,98.1 L328.5,98.2 L329.0,98.2 L329.5,98.2 L330.0,98.3 L330.5,98.3 L331.0,98.3 L331.5,98.3 L332.0,98.3 L332.5,98.3 L333.0,98.3 L333.5,98.3 L334.0,98.3 L334.5,98.2 L335.0,98.2 L335.5,98.2 L336.0,98.1 L336.5,98.1 L337.0,98.0 L337.5,98.0 L338.0,97.9 L338.5,97.8 L339.0,97.8 L339.5,97.7 L340.0,97.7 L340.5,97.6 L341.0,97.5 L341.5,97.5 L342.0,97.4 L342.5,97.3 L343.0,97.2 L343.5,97.2 L344.0,97.1 L344.5,97.1 L345.0,97.0 L345.5,96.9 L346.0,96.9 L346.5,96.8 L347.0,96.8 L347.5,96.7 L348.0,96.6 L348.5,96.6 L349.0,96.5 L349.5,96.5 L350.0,96.4 L350.5,96.3 L351.0,96.3 L351.5,96.2 L352.0,96.1 L352.5,96.1 L353.0,96.0 L353.5,96.0 L354.0,95.9 L354.5,95.8 L355.0,95.8 L355.5,95.7 L356.0,95.6 L356.5,95.6 L357.0,95.5 L357.5,95.5 L358.0,95.4 L358.5,95.4 L359.0,95.3 L359.5,95.3 L360.0,95.2 L360.5,95.1 L361.0,95.1 L361.5,95.0 L362.0,95.0 L362.5,94.9 L363.0,94.9 L363.5,94.9 L364.0,94.8 L364.5,94.8 L365.0,94.7 L365.5,94.7 L366.0,94.6 L366.5,94.6 L367.0,94.5 L367.5,94.5 L368.0,94.5 L368.5,94.4 L369.0,94.4 L369.5,94.3 L370.0,94.3 L370.5,94.2 L371.0,94.2 L371.5,94.2 L372.0,94.1 L372.5,94.1 L373.0,94.0 L373.5,94.0 L374.0,94.0 L374.5,93.9 L375.0,93.9 L375.5,93.9 L376.0,93.8 L376.5,93.8 L377.0,93.8 L377.5,93.7 L378.0,93.7 L378.5,93.7 L379.0,93.6 L379.5,93.6 L380.0,93.6 L380.5,93.5 L381.0,93.5 L381.5,93.5 L382.0,93.4 L382.5,93.4 L383.0,93.4 L383.5,93.3 L384.0,93.3 L384.5,93.3 L385.0,93.3 L385.5,93.2 L386.0,93.2 L386.5,93.2 L387.0,93.2 L387.5,93.1 L388.0,93.1 L388.5,93.1 L389.0,93.1 L389.5,93.0 L390.0,93.0 L390.5,93.0 L391.0,93.0 L391.5,92.9 L392.0,92.9 L392.5,92.9 L393.0,92.9 L393.5,92.8 L394.0,92.8 L394.5,92.8 L395.0,92.8 L395.5,92.7 L396.0,92.7 L396.5,92.7 L397.0,92.7 L397.5,92.7 L398.0,92.6 L398.5,92.6 L399.0,92.6 L399.5,92.6 L400.0,92.6 L400.5,92.5 L401.0,92.5 L401.5,92.5 L402.0,92.5 L402.5,92.5 L403.0,92.5 L403.5,92.4 L404.0,92.4 L404.5,92.4 L405.0,92.4 L405.5,92.4 L406.0,92.4 L406.5,92.4 L407.0,92.3 L407.5,92.3 L408.0,92.3 L408.5,92.3 L409.0,92.3 L409.5,92.3 L410.0,92.3 L410.5,92.3 L411.0,92.3 L411.5,92.3 L412.0,92.3 L412.5,92.2 L413.0,92.2 L413.5,92.2 L414.0,92.2 L414.5,92.2 L415.0,92.2 L415.5,92.2 L416.0,92.2 L416.5,92.2 L417.0,92.2 L417.5,92.2 L418.0,92.2 L418.5,92.2 L419.0,92.2 L419.5,92.2 L420.0,92.2 L420.5,92.2 L421.0,92.2 L421.5,92.1 L422.0,92.1 L422.5,92.1 L423.0,92.1 L423.5,92.1 L424.0,92.1 L424.5,92.1 L425.0,92.1 L425.5,92.1 L426.0,92.2 L426.5,92.2 L427.0,92.2 L427.5,92.2 L428.0,92.2 L428.5,92.2 L429.0,92.2 L429.5,92.2 L430.0,92.2" stroke="#6CB600"/>
<path d="M83.5,343.8 L83.9,345.1 L84.3,346.4 L84.8,347.7 L85.2,348.8 L85.7,349.9 L86.2,350.9 L86.7,351.8 L87.2,352.7 L87.7,353.4 L88.2,353.9 L88.7,354.6 L89.2,355.5 L89.7,356.7 L90.2,358.2 L90.6,359.9 L91.1,361.8 L91.6,364.3 L92.0,367.1 L92.5,369.5 L93.0,371.4 L93.5,373.1 L94.0,374.5 L94.5,375.5 L95.0,376.0 L95.4,376.3 L95.8,376.0 L96.3,375.0 L96.7,373.1 L97.2,370.1 L97.6,366.0 L98.0,359.8 L98.4,352.0 L98.8,344.8 L99.1,338.0 L99.5,331.8 L99.9,326.0 L100.3,320.0 L100.8,311.3 L101.3,303.0 L101.7,298.2 L102.0,294.1 L102.4,290.0 L102.8,285.2 L103.2,280.2 L103.6,275.7 L104.0,272.0 L104.4,269.4 L104.8,267.5 L105.2,266.3 L105.6,265.5 L106.0,265.1 L106.4,265.2 L106.9,265.6 L107.3,266.1 L107.7,266.5 L108.1,266.8 L108.6,267.3 L109.0,268.5 L109.4,270.3 L109.9,272.4 L110.3,274.6 L110.7,276.9 L111.2,279.3 L111.6,281.5 L112.1,283.9 L112.5,286.2 L113.0,288.6 L113.5,290.9 L114.0,293.3 L114.4,295.6 L114.9,298.0 L115.3,300.2 L115.8,302.6 L116.2,304.9 L116.6,307.2 L117.1,309.2 L117.5,311.0 L117.9,312.1 L118.2,312.4 L118.6,311.6 L119.0,309.4 L119.5,306.5 L120.0,303.2 L120.4,300.0 L120.8,297.1 L121.2,294.2 L121.7,291.2 L122.1,288.1 L122.5,285.0 L123.0,281.5 L123.4,277.9 L123.9,274.3 L124.3,270.6 L124.8,267.0 L125.2,263.5 L125.7,260.0 L126.1,256.5 L126.6,253.2 L127.0,250.0 L127.4,247.0 L127.8,244.1 L128.3,241.4 L128.7,239.1 L129.1,237.4 L129.5,236.2 L130.0,235.3 L130.4,234.6 L130.9,234.2 L131.3,233.9 L131.8,233.9 L132.2,234.0 L132.7,234.5 L133.2,235.6 L133.6,237.0 L134.1,238.4 L134.6,239.6 L135.1,240.6 L135.5,241.4 L136.0,242.3 L136.5,243.1 L137.0,244.0 L137.4,245.1 L137.9,246.3 L138.3,247.8 L138.8,249.7 L139.2,251.8 L139.7,253.6 L140.1,255.0 L140.6,256.1 L141.1,257.2 L141.6,258.1 L142.1,259.0 L142.5,259.7 L143.0,260.3 L143.5,260.7 L144.0,261.0 L144.5,261.2 L145.0,261.1 L145.5,260.9 L146.0,260.3 L146.5,259.4 L147.0,258.0 L147.4,256.3 L147.9,254.1 L148.3,251.5 L148.7,248.7 L149.2,245.8 L149.6,243.0 L150.1,239.9 L150.6,236.8 L151.0,233.5 L151.5,230.2 L152.0,227.0 L152.5,223.6 L153.0,220.1 L153.5,216.7 L154.0,213.4 L154.5,210.5 L155.0,208.1 L155.5,206.1 L155.9,204.2 L156.4,202.2 L156.9,200.0 L157.3,197.8 L157.7,195.5 L158.2,193.1 L158.6,190.5 L159.0,188.0 L159.4,185.4 L159.8,182.6 L160.3,179.8 L160.7,177.0 L161.1,174.5 L161.6,172.1 L162.0,169.8 L162.4,167.7 L162.9,165.5 L163.4,163.2 L163.8,160.8 L164.3,158.5 L164.8,156.2 L165.2,153.8 L165.7,151.5 L166.2,149.2 L166.6,146.8 L167.1,144.5 L167.6,142.2 L168.0,139.8 L168.5,137.5 L168.9,135.1 L169.4,132.8 L169.8,130.4 L170.3,128.2 L170.7,126.0 L171.2,124.0 L171.7,122.0 L172.1,120.1 L172.6,118.3 L173.1,116.6 L173.6,114.9 L174.1,113.3 L174.5,111.7 L175.0,110.0 L175.5,108.3 L176.0,106.5 L176.5,104.9 L177.0,103.2 L177.5,101.6 L178.0,100.0 L178.4,98.6 L178.9,97.3 L179.3,96.0 L179.8,94.7 L180.2,93.4 L180.7,92.0 L181.1,90.6 L181.5,89.2 L181.9,87.8 L182.3,86.5 L182.8,85.3 L183.2,84.2 L183.7,83.1 L184.1,82.1 L184.6,81.0 L185.0,80.0 L185.4,78.9 L185.9,77.9 L186.3,76.8 L186.8,75.8 L187.2,75.0 L187.7,74.2 L188.1,73.5 L188.6,72.8 L189.1,72.2 L189.6,71.6 L190.0,71.0 L190.5,70.5 L191.0,70.0 L191.5,69.4 L192.0,68.9 L192.5,68.3 L192.9,67.8 L193.4,67.3 L193.9,66.9 L194.4,66.6 L194.9,66.4 L195.4,66.3 L195.9,66.3 L196.3,66.4 L196.8,66.5 L197.3,66.7 L197.7,66.9 L198.2,67.2 L198.7,67.6 L199.1,67.9 L199.6,68.3 L200.1,68.7 L200.5,69.1 L201.0,69.5 L201.5,69.9 L201.9,70.4 L202.4,70.9 L202.9,71.4 L203.3,71.9 L203.8,72.4 L204.3,73.0 L204.7,73.6 L205.2,74.2 L205.7,74.7 L206.1,75.3 L206.6,75.9 L207.1,76.5 L207.6,77.1 L208.0,77.8 L208.5,78.4 L209.0,79.1 L209.5,79.8 L210.0,80.4 L210.4,81.1 L210.9,81.7 L211.4,82.3 L211.8,82.9 L212.3,83.4 L212.8,84.0 L213.2,84.5 L213.7,85.1 L214.1,85.6 L214.6,86.0 L215.0,86.4 L215.5,86.8 L216.0,87.1 L216.5,87.5 L217.0,87.8 L217.4,88.0 L217.9,88.3 L218.4,88.5 L218.9,88.7 L219.4,88.9 L219.9,89.1 L220.4,89.2 L220.9,89.3 L221.4,89.4 L221.8,89.5 L222.3,89.6 L222.8,89.6 L223.3,89.6 L223.8,89.6 L224.3,89.6 L224.8,89.5 L225.2,89.4 L225.7,89.3 L226.2,89.2 L226.7,89.1 L227.1,89.0 L227.6,88.8 L228.1,88.7 L228.6,88.6 L229.0,88.4 L229.5,88.3 L230.0,88.2 L230.5,88.1 L231.0,88.0 L231.5,87.8 L232.0,87.7 L232.5,87.6 L233.0,87.4 L233.5,87.3 L234.0,87.2 L234.5,87.1 L235.0,87.0 L235.5,86.9 L236.0,86.8 L236.5,86.7 L237.0,86.6 L237.5,86.6 L238.0,86.5 L238.4,86.4 L238.9,86.3 L239.4,86.3 L239.9,86.2 L240.4,86.1 L240.9,86.1 L241.4,86.0 L241.9,86.0 L242.4,86.0 L242.8,85.9 L243.3,85.9 L243.8,85.9 L244.3,86.0 L244.8,86.0 L245.3,86.1 L245.8,86.1 L246.3,86.2 L246.7,86.3 L247.2,86.4 L247.7,86.6 L248.2,86.7 L248.7,86.8 L249.2,87.0 L249.6,87.1 L250.1,87.3 L250.6,87.5 L251.1,87.6 L251.6,87.8 L252.1,87.9 L252.5,88.1 L253.0,88.2 L253.5,88.4 L254.0,88.5 L254.5,88.6 L255.0,88.8 L255.4,88.9 L255.9,89.0 L256.4,89.2 L256.9,89.3 L257.4,89.5 L257.8,89.6 L258.3,89.7 L258.8,89.9 L259.3,90.0 L259.8,90.2 L260.3,90.3 L260.7,90.4 L261.2,90.5 L261.7,90.6 L262.2,90.7 L262.7,90.8 L263.1,90.9 L263.6,90.9 L264.1,91.0 L264.6,91.0 L265.1,91.1 L265.6,91.1 L266.1,91.1 L266.6,91.1 L267.1,91.1 L267.6,91.1 L268.1,91.0 L268.6,91.0 L269.1,91.0 L269.6,90.9 L270.0,90.9 L270.5,90.8 L271.0,90.8 L271.5,90.7 L272.0,90.7 L272.5,90.7 L273.0,90.6 L273.5,90.6 L274.0,90.5 L274.5,90.5 L275.0,90.5 L275.5,90.5 L276.0,90.5 L276.4,90.5 L276.9,90.4 L277.4,90.4 L277.9,90.4 L278.4,90.4 L278.9,90.4 L279.4,90.3 L279.8,90.3 L280.3,90.3 L280.8,90.3 L281.3,90.3 L281.8,90.3 L282.2,90.3 L282.7,90.3 L283.2,90.3 L283.7,90.3 L284.2,90.3 L284.7,90.3 L285.2,90.3 L285.6,90.3 L286.1,90.3 L286.6,90.3 L287.1,90.3 L287.6,90.3 L288.1,90.4 L288.6,90.4 L289.1,90.4 L289.6,90.4 L290.0,90.5 L290.5,90.5 L291.0,90.5 L291.5,90.6 L292.0,90.6 L292.5,90.7 L293.0,90.7 L293.5,90.7 L294.0,90.8 L294.5,90.8 L295.0,90.9 L295.5,90.9 L295.9,90.9 L296.4,91.0 L296.9,91.0 L297.4,91.1 L297.9,91.1 L298.4,91.1 L298.9,91.2 L299.4,91.2 L299.9,91.3 L300.4,91.3 L300.9,91.3 L301.4,91.4 L301.8,91.4 L302.3,91.4 L302.8,91.4 L303.3,91.5 L303.8,91.5 L304.3,91.5 L304.8,91.5 L305.3,91.5 L305.8,91.5 L306.3,91.5 L306.8,91.6 L307.2,91.6 L307.7,91.6 L308.2,91.6 L308.7,91.6 L309.2,91.6 L309.7,91.6 L310.2,91.6 L310.7,91.5 L311.2,91.5 L311.7,91.5 L312.1,91.5 L312.6,91.5 L313.1,91.5 L313.6,91.5 L314.1,91.5 L314.6,91.5 L315.1,91.5 L315.6,91.5 L316.1,91.5 L316.6,91.5 L317.1,91.5 L317.5,91.5 L318.0,91.5 L318.5,91.5 L319.0,91.5 L319.5,91.5 L320.0,91.5 L320.5,91.5 L321.0,91.5 L321.5,91.5 L322.0,91.6 L322.5,91.6 L323.0,91.6 L323.5,91.6 L324.0,91.7 L324.5,91.7 L325.0,91.7 L325.5,91.8 L326.0,91.8 L326.5,91.8 L327.0,91.9 L327.5,91.9 L328.0,91.9 L328.5,91.9 L329.0,92.0 L329.5,92.0 L330.0,92.0 L330.5,92.1 L331.0,92.1 L331.5,92.1 L332.0,92.1 L332.5,92.1 L333.0,92.2 L333.5,92.2 L334.0,92.2 L334.5,92.2 L335.0,92.2 L335.5,92.2 L336.0,92.2 L336.5,92.2 L337.0,92.2 L337.5,92.2 L338.0,92.2 L338.5,92.2 L339.0,92.2 L339.5,92.2 L340.0,92.2 L340.5,92.2 L341.0,92.2 L341.5,92.2 L342.0,92.2 L342.5,92.2 L343.0,92.2 L343.5,92.2 L344.0,92.2 L344.5,92.2 L345.0,92.2 L345.5,92.2 L346.0,92.2 L346.5,92.2 L347.0,92.3 L347.5,92.3 L348.0,92.3 L348.5,92.3 L349.0,92.3 L349.5,92.3 L350.0,92.3 L350.5,92.3 L351.0,92.3 L351.5,92.3 L352.0,92.3 L352.5,92.3 L353.0,92.3 L353.5,92.3 L354.0,92.3 L354.5,92.3 L355.0,92.3 L355.5,92.3 L356.0,92.3 L356.5,92.3 L357.0,92.3 L357.5,92.3 L358.0,92.3 L358.5,92.3 L359.0,92.3 L359.5,92.3 L360.0,92.3 L360.5,92.3 L361.0,92.3 L361.5,92.3 L362.0,92.3 L362.5,92.3 L363.0,92.3 L363.5,92.3 L364.0,92.3 L364.5,92.3 L365.0,92.3 L365.5,92.3 L366.0,92.3 L366.5,92.3 L367.0,92.3 L367.5,92.3 L368.0,92.3 L368.5,92.3 L369.0,92.3 L369.5,92.3 L370.0,92.3 L370.5,92.3 L371.0,92.3 L371.5,92.3 L372.0,92.3 L372.5,92.3 L373.0,92.3 L373.5,92.3 L374.0,92.3 L374.5,92.3 L375.0,92.3 L375.5,92.3 L376.0,92.3 L376.5,92.3 L377.0,92.3 L377.5,92.3 L378.0,92.3 L378.5,92.3 L379.0,92.3 L379.5,92.3 L380.0,92.3 L380.5,92.3 L381.0,92.3 L381.5,92.3 L382.0,92.3 L382.5,92.3 L383.0,92.3 L383.5,92.3 L384.0,92.3 L384.5,92.3 L385.0,92.3 L385.5,92.3 L386.0,92.3 L386.5,92.3 L387.0,92.3 L387.5,92.3 L388.0,92.3 L388.5,92.3 L389.0,92.3 L389.5,92.3 L390.0,92.3 L390.5,92.3 L391.0,92.3 L391.5,92.2 L392.0,92.2 L392.5,92.2 L393.0,92.2 L393.5,92.2 L394.0,92.2 L394.5,92.2 L395.0,92.2 L395.5,92.2 L396.0,92.2 L396.5,92.2 L397.0,92.2 L397.5,92.2 L398.0,92.2 L398.5,92.2 L399.0,92.2 L399.5,92.2 L400.0,92.2 L400.5,92.2 L401.0,92.2 L401.5,92.2 L402.0,92.2 L402.5,92.2 L403.0,92.2 L403.5,92.2 L404.0,92.2 L404.5,92.2 L405.0,92.2 L405.5,92.2 L406.0,92.2 L406.5,92.2 L407.0,92.2 L407.5,92.2 L408.0,92.2 L408.5,92.2 L409.0,92.2 L409.5,92.2 L410.0,92.2 L410.5,92.2 L411.0,92.2 L411.5,92.2 L412.0,92.2 L412.5,92.2 L413.0,92.2 L413.5,92.2 L414.0,92.2 L414.5,92.2 L415.0,92.2 L415.5,92.2 L416.0,92.2 L416.5,92.2 L417.0,92.2 L417.5,92.2 L418.0,92.2 L418.5,92.2 L419.0,92.2 L419.5,92.2 L420.0,92.2 L420.5,92.2 L421.0,92.2 L421.5,92.2 L422.0,92.2 L422.5,92.2 L423.0,92.2 L423.5,92.2 L424.0,92.2 L424.5,92.2 L425.0,92.2 L425.5,92.2 L426.0,92.2 L426.5,92.2 L427.0,92.2 L427.5,92.2 L428.0,92.2 L428.5,92.2 L429.0,92.2 L429.5,92.2 L430.0,92.2 L430.5,92.2 L431.0,92.2 L431.5,92.2 L432.0,92.2 L432.5,92.2 L433.0,92.2 L433.5,92.2 L434.0,92.2 L434.5,92.2 L435.0,92.2 L435.5,92.2 L436.0,92.2 L436.5,92.2 L437.0,92.2 L437.5,92.2 L438.0,92.2 L438.5,92.2 L439.0,92.2 L439.5,92.2 L440.0,92.2" stroke="#5E5E5E"/>
<path d="M83.5,343.8 L83.9,345.1 L84.3,346.4 L84.8,347.7 L85.2,348.8 L85.7,349.9 L86.2,350.9 L86.7,351.8 L87.2,352.7 L87.7,353.4 L88.2,353.9 L88.7,354.6 L89.2,355.5 L89.7,356.7 L90.2,358.2 L90.6,359.9 L91.1,361.8 L91.6,364.3 L92.0,367.1 L92.5,369.5 L93.0,371.4 L93.5,373.1 L94.0,374.5 L94.5,375.5 L95.0,376.0 L95.4,376.3 L95.8,376.0 L96.3,375.0 L96.7,373.1 L97.2,370.1 L97.6,366.0 L98.0,359.8 L98.4,352.0 L98.8,344.8 L99.1,338.0 L99.5,331.8 L99.9,326.0 L100.3,320.0 L100.8,311.5 L101.3,303.0 L101.8,296.4 L102.2,290.0 L102.6,283.6 L103.0,276.9 L103.4,270.8 L103.8,266.0 L104.2,263.0 L104.6,261.3 L105.0,260.4 L105.4,259.6 L105.8,259.1 L106.2,259.2 L106.6,259.2 L107.0,258.8 L107.5,257.4 L108.0,255.4 L108.4,253.4 L108.9,252.0 L109.4,251.5 L109.8,252.2 L110.3,253.8 L110.7,255.9 L111.2,258.4 L111.6,261.0 L112.0,264.0 L112.5,267.5 L112.9,271.2 L113.4,274.5 L113.8,277.0 L114.3,278.9 L114.7,280.5 L115.2,281.8 L115.6,282.9 L116.1,283.7 L116.5,284.3 L117.0,284.5 L117.5,284.4 L118.0,283.8 L118.5,282.8 L119.0,281.5 L119.5,279.9 L120.0,278.0 L120.4,276.0 L120.9,273.6 L121.3,270.9 L121.7,268.0 L122.2,265.0 L122.6,262.0 L123.1,258.6 L123.6,254.8 L124.1,250.0 L124.6,243.9 L125.0,236.8 L125.5,230.0 L126.0,223.6 L126.5,218.0 L126.9,214.0 L127.3,210.2 L127.7,206.8 L128.1,204.0 L128.6,201.2 L129.1,198.7 L129.6,196.4 L130.1,194.3 L130.6,192.2 L131.1,190.0 L131.6,187.7 L132.1,185.4 L132.6,183.0 L133.1,180.8 L133.6,178.6 L134.1,176.5 L134.6,174.7 L135.0,173.0 L135.5,171.4 L135.9,169.9 L136.4,168.3 L136.8,166.7 L137.3,165.0 L137.7,163.3 L138.2,161.5 L138.6,159.7 L139.0,157.8 L139.5,156.1 L139.9,154.5 L140.4,152.9 L140.8,151.3 L141.3,149.8 L141.8,148.3 L142.3,146.9 L142.7,145.6 L143.2,144.2 L143.7,142.9 L144.1,141.6 L144.6,140.3 L145.1,139.0 L145.6,137.8 L146.1,136.6 L146.5,135.4 L147.0,134.3 L147.4,133.3 L147.9,132.2 L148.3,131.3 L148.8,130.3 L149.2,129.4 L149.7,128.4 L150.2,127.5 L150.6,126.6 L151.0,125.7 L151.5,124.8 L151.9,123.9 L152.4,123.0 L152.8,122.1 L153.3,121.3 L153.8,120.4 L154.2,119.6 L154.6,118.8 L155.1,117.9 L155.6,117.0 L156.0,116.2 L156.4,115.4 L156.9,114.6 L157.4,113.9 L157.8,113.3 L158.3,112.7 L158.8,112.1 L159.3,111.6 L159.8,111.1 L160.2,110.7 L160.7,110.3 L161.2,110.0 L161.7,109.7 L162.2,109.5 L162.7,109.4 L163.1,109.3 L163.6,109.3 L164.1,109.4 L164.5,109.5 L165.0,109.7 L165.5,109.9 L165.9,110.2 L166.4,110.5 L166.9,111.0 L167.4,111.6 L167.9,112.3 L168.4,113.0 L168.9,113.8 L169.4,114.7 L169.9,115.5 L170.3,116.2 L170.8,117.0 L171.2,117.8 L171.7,118.6 L172.2,119.4 L172.6,120.3 L173.1,121.1 L173.5,122.0 L173.9,122.9 L174.4,123.8 L174.8,124.8 L175.3,125.8 L175.7,126.8 L176.2,127.8 L176.6,128.7 L177.1,129.7 L177.6,130.7 L178.1,131.7 L178.5,132.7 L179.0,133.7 L179.5,134.7 L180.0,135.7 L180.5,136.7 L181.0,137.7 L181.4,138.7 L181.9,139.6 L182.4,140.6 L182.9,141.6 L183.4,142.6 L183.9,143.6 L184.3,144.7 L184.8,145.7 L185.3,146.8 L185.8,147.8 L186.3,148.7 L186.7,149.6 L187.2,150.5 L187.7,151.2 L188.2,151.9 L188.7,152.6 L189.2,153.3 L189.7,154.0 L190.2,154.6 L190.7,155.2 L191.1,155.8 L191.6,156.3 L192.1,156.7 L192.6,157.1 L193.1,157.4 L193.6,157.6 L194.1,157.7 L194.6,157.7 L195.1,157.6 L195.5,157.4 L196.0,157.0 L196.5,156.5 L197.0,156.0 L197.5,155.3 L197.9,154.6 L198.4,153.7 L198.9,152.8 L199.4,151.8 L199.9,150.6 L200.3,149.2 L200.8,147.8 L201.3,146.3 L201.8,144.7 L202.3,143.1 L202.7,141.5 L203.2,139.9 L203.7,138.4 L204.2,136.8 L204.7,135.3 L205.2,133.7 L205.7,132.1 L206.1,130.5 L206.6,128.8 L207.1,127.2 L207.6,125.6 L208.1,123.9 L208.6,122.3 L209.1,120.7 L209.6,119.0 L210.0,117.3 L210.5,115.6 L211.0,113.9 L211.5,112.2 L212.0,110.6 L212.4,109.0 L212.9,107.5 L213.4,106.2 L213.9,105.0 L214.4,103.8 L214.8,102.7 L215.3,101.6 L215.8,100.7 L216.3,99.8 L216.8,98.9 L217.2,98.1 L217.7,97.3 L218.2,96.6 L218.7,95.9 L219.2,95.3 L219.6,94.8 L220.1,94.3 L220.6,93.8 L221.1,93.5 L221.5,93.2 L222.0,93.0 L222.5,92.8 L223.0,92.7 L223.5,92.7 L224.0,92.9 L224.5,93.1 L225.0,93.3 L225.5,93.7 L226.0,94.1 L226.5,94.5 L227.0,95.0 L227.5,95.5 L228.0,96.1 L228.4,96.7 L228.9,97.3 L229.4,97.9 L229.9,98.6 L230.4,99.2 L230.9,99.9 L231.4,100.5 L231.9,101.2 L232.4,101.8 L232.8,102.3 L233.3,102.9 L233.8,103.4 L234.3,103.8 L234.8,104.2 L235.3,104.6 L235.7,104.9 L236.2,105.3 L236.7,105.6 L237.2,105.9 L237.7,106.2 L238.2,106.4 L238.6,106.7 L239.1,106.9 L239.6,107.1 L240.1,107.2 L240.6,107.3 L241.0,107.4 L241.5,107.5 L242.0,107.5 L242.5,107.5 L243.0,107.4 L243.5,107.3 L244.0,107.2 L244.5,107.0 L245.0,106.8 L245.5,106.6 L246.0,106.3 L246.5,106.0 L247.0,105.7 L247.5,105.5 L248.0,105.2 L248.5,104.9 L249.0,104.6 L249.5,104.3 L250.0,104.0 L250.5,103.7 L251.0,103.4 L251.5,103.1 L252.0,102.7 L252.5,102.4 L253.0,102.0 L253.5,101.6 L254.0,101.3 L254.5,100.9 L255.0,100.6 L255.5,100.3 L256.0,100.0 L256.5,99.7 L257.0,99.5 L257.5,99.2 L258.0,99.0 L258.5,98.7 L259.0,98.5 L259.5,98.3 L260.0,98.1 L260.5,97.9 L261.0,97.8 L261.5,97.6 L262.0,97.6 L262.5,97.5 L263.0,97.5 L263.5,97.5 L264.0,97.5 L264.5,97.6 L265.0,97.7 L265.5,97.8 L266.0,97.9 L266.5,98.0 L267.0,98.1 L267.5,98.3 L268.0,98.4 L268.5,98.6 L269.0,98.7 L269.5,98.9 L270.0,99.0 L270.5,99.1 L271.0,99.3 L271.5,99.5 L271.9,99.6 L272.4,99.8 L272.9,100.0 L273.4,100.2 L273.9,100.4 L274.4,100.6 L274.9,100.8 L275.3,101.0 L275.8,101.2 L276.3,101.4 L276.8,101.5 L277.3,101.7 L277.8,101.8 L278.3,102.0 L278.7,102.1 L279.2,102.2 L279.7,102.3 L280.2,102.3 L280.7,102.3 L281.2,102.3 L281.7,102.3 L282.2,102.3 L282.6,102.2 L283.1,102.2 L283.6,102.1 L284.1,102.0 L284.6,101.9 L285.1,101.8 L285.6,101.7 L286.1,101.6 L286.6,101.5 L287.1,101.3 L287.6,101.2 L288.0,101.0 L288.5,100.9 L289.0,100.8 L289.5,100.6 L290.0,100.5 L290.5,100.4 L291.0,100.2 L291.5,100.0 L292.0,99.8 L292.5,99.7 L293.0,99.5 L293.5,99.3 L294.0,99.0 L294.5,98.8 L295.0,98.6 L295.5,98.4 L296.0,98.2 L296.5,98.0 L297.0,97.8 L297.5,97.6 L298.0,97.5 L298.5,97.3 L299.0,97.1 L299.5,97.0 L300.0,96.9 L300.5,96.8 L301.0,96.7 L301.5,96.6 L302.0,96.6 L302.5,96.5 L303.0,96.5 L303.5,96.4 L304.0,96.4 L304.5,96.4 L305.0,96.4 L305.5,96.3 L306.0,96.3 L306.5,96.3 L307.0,96.3 L307.5,96.3 L308.0,96.3 L308.5,96.3 L309.0,96.3 L309.5,96.3 L310.0,96.3 L310.5,96.3 L311.0,96.3 L311.5,96.3 L312.0,96.4 L312.5,96.4 L313.0,96.4 L313.5,96.4 L314.0,96.4 L314.5,96.4 L315.0,96.4 L315.5,96.4 L316.0,96.4 L316.5,96.5 L317.0,96.5 L317.5,96.5 L318.0,96.4 L318.5,96.4 L319.0,96.4 L319.5,96.4 L320.0,96.4 L320.5,96.4 L321.0,96.4 L321.5,96.3 L322.0,96.3 L322.5,96.3 L323.0,96.2 L323.5,96.2 L324.0,96.2 L324.5,96.1 L325.0,96.1 L325.5,96.1 L326.0,96.0 L326.5,96.0 L327.0,95.9 L327.5,95.9 L328.0,95.9 L328.5,95.8 L329.0,95.8 L329.5,95.7 L330.0,95.7 L330.5,95.7 L331.0,95.6 L331.5,95.6 L332.0,95.5 L332.5,95.5 L333.0,95.4 L333.5,95.4 L334.0,95.4 L334.5,95.3 L335.0,95.3 L335.5,95.3 L336.0,95.2 L336.5,95.2 L337.0,95.2 L337.5,95.1 L338.0,95.1 L338.5,95.1 L339.0,95.0 L339.5,95.0 L340.0,95.0 L340.5,94.9 L341.0,94.9 L341.5,94.9 L342.0,94.8 L342.5,94.8 L343.0,94.8 L343.5,94.7 L344.0,94.7 L344.5,94.7 L345.0,94.6 L345.5,94.6 L346.0,94.6 L346.5,94.5 L347.0,94.5 L347.5,94.5 L348.0,94.4 L348.5,94.4 L349.0,94.4 L349.5,94.3 L350.0,94.3 L350.5,94.3 L351.0,94.2 L351.5,94.2 L352.0,94.2 L352.5,94.1 L353.0,94.1 L353.5,94.1 L354.0,94.0 L354.5,94.0 L355.0,94.0 L355.5,93.9 L356.0,93.9 L356.5,93.9 L357.0,93.8 L357.5,93.8 L358.0,93.7 L358.5,93.7 L359.0,93.7 L359.5,93.6 L360.0,93.6 L360.5,93.6 L361.0,93.5 L361.5,93.5 L362.0,93.5 L362.5,93.4 L363.0,93.4 L363.5,93.4 L364.0,93.4 L364.5,93.3 L365.0,93.3 L365.5,93.3 L366.0,93.2 L366.5,93.2 L367.0,93.2 L367.5,93.2 L368.0,93.1 L368.5,93.1 L369.0,93.1 L369.5,93.1 L370.0,93.0 L370.5,93.0 L371.0,93.0 L371.5,93.0 L372.0,92.9 L372.5,92.9 L373.0,92.9 L373.5,92.9 L374.0,92.8 L374.5,92.8 L375.0,92.8 L375.5,92.8 L376.0,92.8 L376.5,92.7 L377.0,92.7 L377.5,92.7 L378.0,92.7 L378.5,92.7 L379.0,92.6 L379.5,92.6 L380.0,92.6 L380.5,92.6 L381.0,92.6 L381.5,92.5 L382.0,92.5 L382.5,92.5 L383.0,92.5 L383.5,92.5 L384.0,92.5 L384.5,92.5 L385.0,92.4 L385.5,92.4 L386.0,92.4 L386.5,92.4 L387.0,92.4 L387.5,92.4 L388.0,92.4 L388.5,92.4 L389.0,92.4 L389.5,92.3 L390.0,92.3 L390.5,92.3 L391.0,92.3 L391.5,92.3 L392.0,92.3 L392.5,92.3 L393.0,92.3 L393.5,92.3 L394.0,92.3 L394.5,92.3 L395.0,92.2 L395.5,92.2 L396.0,92.2 L396.5,92.2 L397.0,92.2 L397.5,92.2 L398.0,92.2 L398.5,92.2 L399.0,92.2 L399.5,92.2 L400.0,92.2 L400.5,92.2 L401.0,92.2 L401.5,92.2 L402.0,92.2 L402.5,92.2 L403.0,92.2 L403.5,92.2 L404.0,92.2 L404.5,92.2 L405.0,92.2 L405.5,92.2 L406.0,92.2 L406.5,92.2 L407.0,92.2 L407.5,92.2 L408.0,92.2 L408.5,92.2 L409.0,92.2 L409.5,92.2 L410.0,92.2 L410.5,92.2 L411.0,92.2 L411.5,92.2 L412.0,92.2 L412.5,92.2 L413.0,92.2 L413.5,92.2 L414.0,92.2 L414.5,92.2 L415.0,92.2 L415.5,92.2 L416.0,92.2 L416.5,92.2 L417.0,92.2 L417.5,92.2 L418.0,92.2 L418.5,92.2 L419.0,92.2 L419.5,92.2 L420.0,92.2 L420.5,92.2 L421.0,92.2 L421.5,92.2 L422.0,92.2 L422.5,92.2 L423.0,92.2 L423.5,92.2 L424.0,92.2 L424.5,92.2 L425.0,92.2 L425.5,92.2 L426.0,92.2 L426.5,92.2 L427.0,92.2 L427.5,92.2 L428.0,92.2 L428.5,92.2 L429.0,92.2 L429.5,92.2 L430.0,92.2 L430.5,92.2 L431.0,92.2 L431.5,92.2 L432.0,92.2 L432.5,92.2 L433.0,92.2 L433.5,92.2 L434.0,92.2 L434.5,92.2 L435.0,92.2 L435.5,92.2 L436.0,92.2 L436.5,92.2 L437.0,92.2 L437.5,92.2 L438.0,92.2 L438.5,92.2 L439.0,92.2 L439.5,92.2 L440.0,92.1 L440.5,92.1 L441.0,92.1 L441.5,92.1 L442.0,92.1 L442.5,92.1 L443.0,92.1 L443.5,92.1 L444.0,92.1 L444.5,92.1 L445.0,92.1 L445.5,92.1 L446.0,92.1 L446.5,92.1 L447.0,92.1 L447.5,92.1 L448.0,92.1 L448.5,92.1 L449.0,92.1 L449.5,92.1 L450.0,92.1 L450.5,92.1 L451.0,92.1 L451.5,92.1 L452.0,92.1 L452.5,92.1 L453.0,92.1 L453.5,92.1 L454.0,92.1 L454.5,92.1 L455.0,92.1 L455.5,92.1 L456.0,92.1 L456.5,92.1 L457.0,92.1 L457.5,92.1 L458.0,92.1 L458.5,92.1 L459.0,92.1 L459.5,92.1 L460.0,92.1 L460.5,92.1 L461.0,92.1 L461.5,92.1 L462.0,92.1 L462.5,92.1 L463.0,92.1 L463.5,92.1 L464.0,92.1 L464.5,92.1 L465.0,92.1 L465.5,92.1 L466.0,92.1 L466.5,92.1 L467.0,92.1 L467.5,92.1 L468.0,92.1 L468.5,92.1 L469.0,92.1 L469.5,92.1 L470.0,92.1 L470.5,92.1 L471.0,92.1 L471.5,92.1 L472.0,92.1 L472.5,92.1 L473.0,92.1 L473.5,92.1 L474.0,92.1 L474.5,92.1 L475.0,92.1 L475.5,92.1 L476.0,92.1 L476.5,92.1 L477.0,92.1 L477.5,92.1 L478.0,92.1 L478.5,92.1 L479.0,92.1 L479.5,92.1 L480.0,92.1 L480.5,92.1 L481.0,92.1 L481.5,92.1 L482.0,92.1 L482.5,92.1 L483.0,92.1 L483.5,92.1 L484.0,92.1 L484.5,92.1 L485.0,92.1 L485.5,92.1 L486.0,92.1 L486.5,92.1 L487.0,92.1 L487.5,92.1 L488.0,92.1 L488.5,92.1 L489.0,92.1 L489.5,92.1 L490.0,92.1 L490.5,92.1 L491.0,92.1 L491.5,92.1 L492.0,92.1 L492.5,92.1 L493.0,92.1 L493.5,92.1 L494.0,92.1 L494.5,92.2 L495.0,92.2 L495.5,92.2 L496.0,92.2 L496.5,92.2 L497.0,92.2 L497.5,92.2 L498.0,92.2 L498.5,92.2 L499.0,92.2 L499.5,92.2 L500.0,92.2 L500.5,92.2 L501.0,92.2 L501.5,92.2 L502.0,92.2 L502.5,92.2 L503.0,92.2 L503.5,92.2 L504.0,92.2 L504.5,92.2 L505.0,92.2 L505.5,92.2 L506.0,92.2 L506.5,92.2 L507.0,92.2 L507.5,92.2 L508.0,92.2 L508.5,92.2 L509.0,92.2 L509.5,92.2 L510.0,92.2 L510.5,92.2 L511.0,92.2 L511.5,92.2 L512.0,92.2 L512.5,92.2 L513.0,92.2 L513.5,92.2 L514.0,92.2 L514.5,92.2 L515.0,92.2 L515.5,92.2 L516.0,92.2 L516.5,92.2 L517.0,92.2 L517.5,92.2 L518.0,92.2 L518.5,92.2 L519.0,92.2 L519.5,92.2 L520.0,92.2 L520.5,92.2 L521.0,92.2 L521.5,92.2 L522.0,92.2 L522.5,92.2 L523.0,92.2 L523.5,92.2 L524.0,92.2 L524.5,92.2 L525.0,92.2 L525.5,92.2 L526.0,92.2 L526.5,92.2 L527.0,92.2 L527.5,92.2 L528.0,92.2 L528.5,92.2 L529.0,92.2 L529.5,92.2 L530.0,92.2 L530.5,92.2 L531.0,92.2 L531.5,92.2 L532.0,92.2 L532.5,92.2 L533.0,92.2 L533.5,92.2 L534.0,92.2 L534.5,92.2 L535.0,92.2 L535.5,92.2 L536.0,92.2 L536.5,92.2 L537.0,92.2 L537.5,92.2 L538.0,92.2 L538.5,92.2 L539.0,92.2 L539.5,92.2 L540.0,92.2 L540.5,92.2 L541.0,92.2 L541.5,92.2 L542.0,92.2 L542.5,92.2 L543.0,92.2 L543.5,92.2 L544.0,92.2 L544.5,92.2 L545.0,92.2 L545.5,92.2 L546.0,92.2 L546.5,92.2 L547.0,92.2 L547.5,92.2 L548.0,92.2 L548.5,92.2 L549.0,92.2 L549.5,92.2 L550.0,92.2 L550.5,92.2 L551.0,92.2 L551.5,92.2 L552.0,92.2 L552.5,92.2 L553.0,92.2 L553.5,92.2 L554.0,92.2 L554.5,92.2 L555.0,92.2 L555.5,92.2 L556.0,92.2 L556.5,92.2 L557.0,92.2 L557.5,92.2 L558.0,92.2 L558.5,92.2 L559.0,92.2 L559.5,92.2 L560.0,92.2 L560.5,92.2 L561.0,92.2 L561.5,92.2 L562.0,92.2 L562.5,92.2 L563.0,92.2 L563.5,92.2 L564.0,92.2 L564.5,92.2 L565.0,92.2 L565.5,92.2 L566.0,92.2 L566.5,92.2 L567.0,92.2 L567.5,92.2 L568.0,92.2 L568.5,92.2 L569.0,92.2 L569.5,92.2 L570.0,92.2 L570.5,92.2 L571.0,92.2 L571.5,92.2 L572.0,92.2 L572.5,92.2 L573.0,92.2 L573.5,92.2 L574.0,92.2" stroke="#EE3535"/></g>
<g id="ax"><line x1="76.5" y1="428.80" x2="83.5" y2="428.80"/>
<line x1="76.5" y1="344.64" x2="83.5" y2="344.64"/>
<line x1="76.5" y1="260.48" x2="83.5" y2="260.48"/>
<line x1="76.5" y1="176.32" x2="83.5" y2="176.32"/>
<line x1="76.5" y1="92.16" x2="83.5" y2="92.16"/>
<line x1="76.5" y1="8.00" x2="83.5" y2="8.00"/>
<line x1="79.5" y1="386.72" x2="83.5" y2="386.72"/>
<line x1="79.5" y1="302.56" x2="83.5" y2="302.56"/>
<line x1="79.5" y1="218.40" x2="83.5" y2="218.40"/>
<line x1="79.5" y1="134.24" x2="83.5" y2="134.24"/>
<line x1="79.5" y1="50.08" x2="83.5" y2="50.08"/>
<line x1="83.50" y1="428.8" x2="83.50" y2="435.8"/>
<line x1="181.66" y1="428.8" x2="181.66" y2="435.8"/>
<line x1="279.82" y1="428.8" x2="279.82" y2="435.8"/>
<line x1="377.98" y1="428.8" x2="377.98" y2="435.8"/>
<line x1="476.14" y1="428.8" x2="476.14" y2="435.8"/>
<line x1="574.30" y1="428.8" x2="574.30" y2="435.8"/>
<line x1="132.58" y1="428.8" x2="132.58" y2="432.8"/>
<line x1="230.74" y1="428.8" x2="230.74" y2="432.8"/>
<line x1="328.90" y1="428.8" x2="328.90" y2="432.8"/>
<line x1="427.06" y1="428.8" x2="427.06" y2="432.8"/>
<line x1="525.22" y1="428.8" x2="525.22" y2="432.8"/>
<rect x="83.5" y="8.0" width="490.79999999999995" height="420.8" fill="none"/></g>
<g id="lb"><text x="70.5" y="434.90" text-anchor="end">-500</text>
<text x="70.5" y="350.74" text-anchor="end">0</text>
<text x="70.5" y="266.58" text-anchor="end">500</text>
<text x="70.5" y="182.42" text-anchor="end">1000</text>
<text x="70.5" y="98.26" text-anchor="end">1500</text>
<text x="70.5" y="14.10" text-anchor="end">2000</text>
<text x="83.50" y="456.5" text-anchor="middle">0</text>
<text x="181.66" y="456.5" text-anchor="middle">100</text>
<text x="279.82" y="456.5" text-anchor="middle">200</text>
<text x="377.98" y="456.5" text-anchor="middle">300</text>
<text x="476.14" y="456.5" text-anchor="middle">400</text>
<text x="574.30" y="456.5" text-anchor="middle">500</text></g>
<text x="329.5" y="492.3" text-anchor="middle" font-size="24.5">Time [ms]</text>
<text transform="translate(18.3,217.9) rotate(-90)" text-anchor="middle" font-size="24.5">Shaft Speed [Rpm]</text>
<rect x="578.4" y="232.1" width="105.9" height="195.9" fill="#fff" stroke="#3a3a3a" stroke-width="1.3"/>
<g id="lg"><line x1="581.1" y1="245.45" x2="624.8" y2="245.45" stroke="#00CCCC"/>
<text x="630.8" y="251.95">345 V</text>
<line x1="581.1" y1="269.62" x2="624.8" y2="269.62" stroke="#7B4545"/>
<text x="630.8" y="276.12">350 V</text>
<line x1="581.1" y1="293.79" x2="624.8" y2="293.79" stroke="#888800"/>
<text x="630.8" y="300.29">375 V</text>
<line x1="581.1" y1="317.96" x2="624.8" y2="317.96" stroke="#FA6000"/>
<text x="630.8" y="324.46">380 V</text>
<line x1="581.1" y1="342.13" x2="624.8" y2="342.13" stroke="#5E93CB"/>
<text x="630.8" y="348.63">400 V</text>
<line x1="581.1" y1="366.30" x2="624.8" y2="366.30" stroke="#6CB600"/>
<text x="630.8" y="372.80">425 V</text>
<line x1="581.1" y1="390.47" x2="624.8" y2="390.47" stroke="#5E5E5E"/>
<text x="630.8" y="396.97">450 V</text>
<line x1="581.1" y1="414.64" x2="624.8" y2="414.64" stroke="#EE3535"/>
<text x="630.8" y="421.14">475 V</text></g>
</svg>
</body></html>
